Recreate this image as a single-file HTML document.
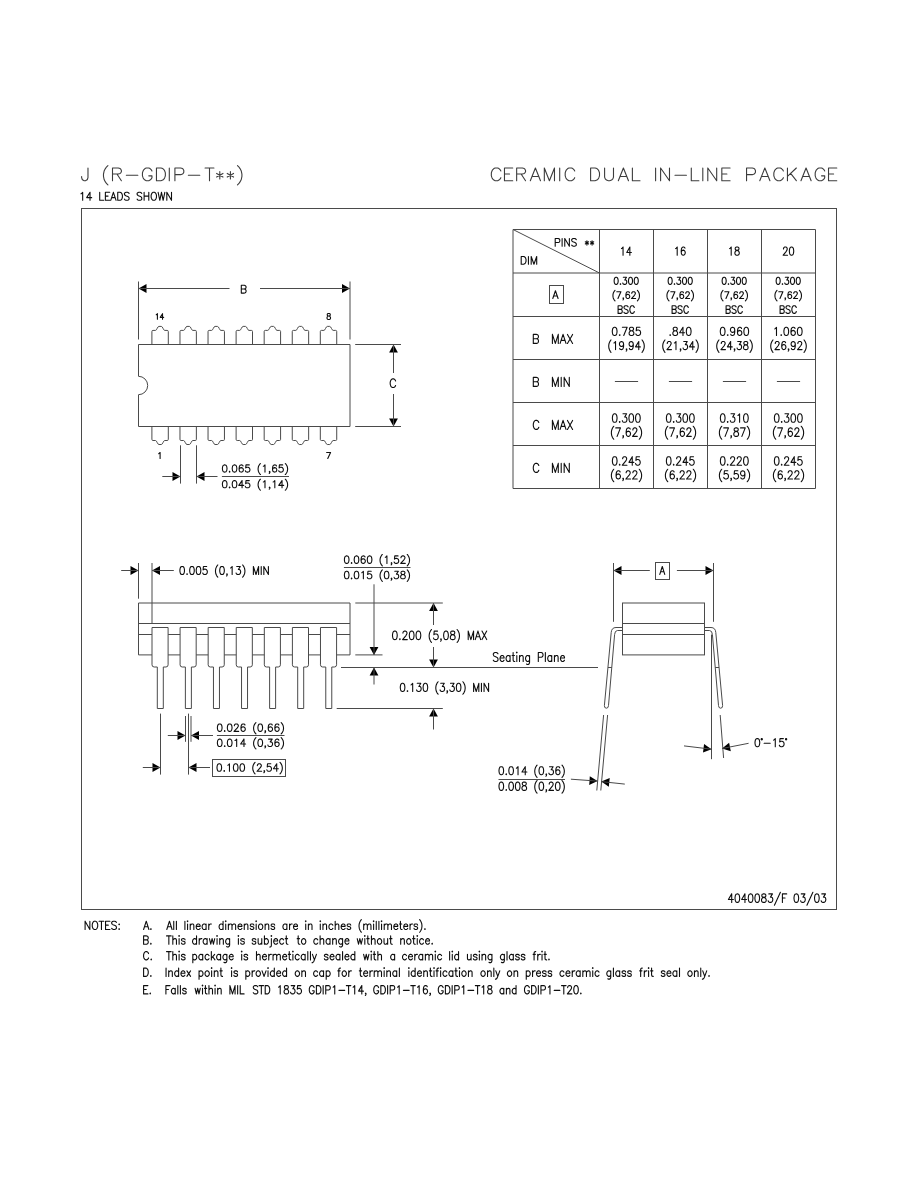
<!DOCTYPE html>
<html><head><meta charset="utf-8"><style>
html,body{margin:0;padding:0;background:#fff;}
svg{display:block;}
.tt{stroke:#3c3c3c !important;}
.tx{fill:none;stroke:#0e0e0e;stroke-width:1.1;stroke-linecap:round;stroke-linejoin:round;}
line,polyline,path,rect{stroke:#4a4a4a;stroke-width:1;}
rect{fill:none;}
.ah{fill:#000;stroke:none;}
</style></head><body>
<svg width="918" height="1188" viewBox="0 0 918 1188">
<rect x="0" y="0" width="918" height="1188" fill="#fff" stroke="none" style="stroke:none;fill:#fff"/>
<path class="tx tt" d="M87.98,168.00L87.98,177.68 87.34,179.49 86.71,180.10 85.44,180.70 84.17,180.70 82.90,180.10 82.26,179.49 81.63,177.68 81.63,176.47"/>
<path class="tx tt" d="M107.92,165.58L106.65,166.79 105.38,168.60 104.11,171.02 103.48,174.05 103.48,176.47 104.11,179.49 105.38,181.91 106.65,183.72 107.92,184.93"/>
<path class="tx tt" d="M112.50,168.00L112.50,180.70M112.50,168.00L118.22,168.00 120.12,168.60 120.76,169.21 121.39,170.42 121.39,171.63 120.76,172.84 120.12,173.44 118.22,174.05 112.50,174.05M116.95,174.05L121.39,180.70"/>
<path class="tx tt" d="M126.38,175.26L137.81,175.26"/>
<path class="tx tt" d="M151.96,171.02L151.33,169.81 150.06,168.60 148.79,168.00 146.25,168.00 144.98,168.60 143.71,169.81 143.07,171.02 142.44,172.84 142.44,175.86 143.07,177.68 143.71,178.89 144.98,180.10 146.25,180.70 148.79,180.70 150.06,180.10 151.33,178.89 151.96,177.68 151.96,175.86M148.79,175.86L151.96,175.86"/>
<path class="tx tt" d="M156.46,168.00L156.46,180.70M156.46,168.00L160.90,168.00 162.81,168.60 164.08,169.81 164.71,171.02 165.35,172.84 165.35,175.86 164.71,177.68 164.08,178.89 162.81,180.10 160.90,180.70 156.46,180.70"/>
<path class="tx tt" d="M169.30,168.00L169.30,180.70"/>
<path class="tx tt" d="M174.91,168.00L174.91,180.70M174.91,168.00L180.62,168.00 182.53,168.60 183.16,169.21 183.80,170.42 183.80,172.23 183.16,173.44 182.53,174.05 180.62,174.65 174.91,174.65"/>
<path class="tx tt" d="M188.34,175.26L199.77,175.26"/>
<path class="tx tt" d="M209.50,168.00L209.50,180.70M205.06,168.00L213.95,168.00"/>
<path class="tx tt" d="M219.80,171.63L219.80,178.89M216.62,173.44L222.97,177.07M222.97,173.44L216.62,177.07"/>
<path class="tx tt" d="M230.40,171.63L230.40,178.89M227.22,173.44L233.57,177.07M233.57,173.44L227.22,177.07"/>
<path class="tx tt" d="M237.48,165.58L238.75,166.79 240.02,168.60 241.29,171.02 241.92,174.05 241.92,176.47 241.29,179.49 240.02,181.91 238.75,183.72 237.48,184.93"/>
<path class="tx" d="M81.00,193.82L81.67,193.44 82.67,192.30 82.67,200.30M90.02,192.30L86.68,197.63 91.69,197.63M90.02,192.30L90.02,200.30M99.70,192.30L99.70,200.30M99.70,200.30L103.71,200.30M105.38,192.30L105.38,200.30M105.38,192.30L109.72,192.30M105.38,196.11L108.05,196.11M105.38,200.30L109.72,200.30M113.39,192.30L110.72,200.30M113.39,192.30L116.06,200.30M111.72,197.63L115.06,197.63M117.73,192.30L117.73,200.30M117.73,192.30L120.07,192.30 121.07,192.68 121.74,193.44 122.08,194.20 122.41,195.35 122.41,197.25 122.08,198.40 121.74,199.16 121.07,199.92 120.07,200.30 117.73,200.30M129.09,193.44L128.42,192.68 127.42,192.30 126.08,192.30 125.08,192.68 124.41,193.44 124.41,194.20 124.75,194.97 125.08,195.35 125.75,195.73 127.75,196.49 128.42,196.87 128.75,197.25 129.09,198.01 129.09,199.16 128.42,199.92 127.42,200.30 126.08,200.30 125.08,199.92 124.41,199.16M141.78,193.44L141.11,192.68 140.11,192.30 138.77,192.30 137.77,192.68 137.10,193.44 137.10,194.20 137.44,194.97 137.77,195.35 138.44,195.73 140.44,196.49 141.11,196.87 141.44,197.25 141.78,198.01 141.78,199.16 141.11,199.92 140.11,200.30 138.77,200.30 137.77,199.92 137.10,199.16M144.12,192.30L144.12,200.30M148.79,192.30L148.79,200.30M144.12,196.11L148.79,196.11M153.13,192.30L152.46,192.68 151.80,193.44 151.46,194.20 151.13,195.35 151.13,197.25 151.46,198.40 151.80,199.16 152.46,199.92 153.13,200.30 154.47,200.30 155.14,199.92 155.80,199.16 156.14,198.40 156.47,197.25 156.47,195.35 156.14,194.20 155.80,193.44 155.14,192.68 154.47,192.30 153.13,192.30M158.14,192.30L159.81,200.30M161.48,192.30L159.81,200.30M161.48,192.30L163.15,200.30M164.82,192.30L163.15,200.30M166.82,192.30L166.82,200.30M166.82,192.30L171.50,200.30M171.50,192.30L171.50,200.30"/>
<path class="tx tt" d="M500.86,171.02L500.23,169.81 498.96,168.60 497.69,168.00 495.15,168.00 493.88,168.60 492.61,169.81 491.97,171.02 491.34,172.84 491.34,175.86 491.97,177.68 492.61,178.89 493.88,180.10 495.15,180.70 497.69,180.70 498.96,180.10 500.23,178.89 500.86,177.68"/>
<path class="tx tt" d="M504.47,168.00L504.47,180.70M504.47,168.00L512.73,168.00M504.47,174.05L509.55,174.05M504.47,180.70L512.73,180.70"/>
<path class="tx tt" d="M516.65,168.00L516.65,180.70M516.65,168.00L522.37,168.00 524.27,168.60 524.91,169.21 525.54,170.42 525.54,171.63 524.91,172.84 524.27,173.44 522.37,174.05 516.65,174.05M521.10,174.05L525.54,180.70"/>
<path class="tx tt" d="M535.40,168.00L530.32,180.70M535.40,168.00L540.48,180.70M532.22,176.47L538.57,176.47"/>
<path class="tx tt" d="M544.32,168.00L544.32,180.70M544.32,168.00L549.40,180.70M554.48,168.00L549.40,180.70M554.48,168.00L554.48,180.70"/>
<path class="tx tt" d="M559.70,168.00L559.70,180.70"/>
<path class="tx tt" d="M574.71,171.02L574.08,169.81 572.81,168.60 571.54,168.00 569.00,168.00 567.73,168.60 566.46,169.81 565.82,171.02 565.19,172.84 565.19,175.86 565.82,177.68 566.46,178.89 567.73,180.10 569.00,180.70 571.54,180.70 572.81,180.10 574.08,178.89 574.71,177.68"/>
<path class="tx tt" d="M590.60,168.00L590.60,180.70M590.60,168.00L595.05,168.00 596.95,168.60 598.22,169.81 598.86,171.02 599.49,172.84 599.49,175.86 598.86,177.68 598.22,178.89 596.95,180.10 595.05,180.70 590.60,180.70"/>
<path class="tx tt" d="M604.60,168.00L604.60,177.07 605.24,178.89 606.51,180.10 608.41,180.70 609.68,180.70 611.59,180.10 612.86,178.89 613.49,177.07 613.49,168.00"/>
<path class="tx tt" d="M623.40,168.00L618.32,180.70M623.40,168.00L628.48,180.70M620.22,176.47L626.57,176.47"/>
<path class="tx tt" d="M632.39,168.00L632.39,180.70M632.39,180.70L640.01,180.70"/>
<path class="tx tt" d="M655.60,168.00L655.60,180.70"/>
<path class="tx tt" d="M660.60,168.00L660.60,180.70M660.60,168.00L669.49,180.70M669.49,168.00L669.49,180.70"/>
<path class="tx tt" d="M674.99,175.26L686.42,175.26"/>
<path class="tx tt" d="M691.29,168.00L691.29,180.70M691.29,180.70L698.91,180.70"/>
<path class="tx tt" d="M702.80,168.00L702.80,180.70"/>
<path class="tx tt" d="M707.80,168.00L707.80,180.70M707.80,168.00L716.69,180.70M716.69,168.00L716.69,180.70"/>
<path class="tx tt" d="M721.82,168.00L721.82,180.70M721.82,168.00L730.08,168.00M721.82,174.05L726.90,174.05M721.82,180.70L730.08,180.70"/>
<path class="tx tt" d="M746.55,168.00L746.55,180.70M746.55,168.00L752.27,168.00 754.17,168.60 754.81,169.21 755.44,170.42 755.44,172.23 754.81,173.44 754.17,174.05 752.27,174.65 746.55,174.65"/>
<path class="tx tt" d="M764.85,168.00L759.77,180.70M764.85,168.00L769.93,180.70M761.67,176.47L768.02,176.47"/>
<path class="tx tt" d="M783.36,171.02L782.73,169.81 781.46,168.60 780.19,168.00 777.65,168.00 776.38,168.60 775.11,169.81 774.47,171.02 773.84,172.84 773.84,175.86 774.47,177.68 775.11,178.89 776.38,180.10 777.65,180.70 780.19,180.70 781.46,180.10 782.73,178.89 783.36,177.68"/>
<path class="tx tt" d="M787.45,168.00L787.45,180.70M796.34,168.00L787.45,176.47M790.63,173.44L796.34,180.70"/>
<path class="tx tt" d="M806.05,168.00L800.97,180.70M806.05,168.00L811.13,180.70M802.87,176.47L809.22,176.47"/>
<path class="tx tt" d="M824.71,171.02L824.08,169.81 822.81,168.60 821.54,168.00 819.00,168.00 817.73,168.60 816.46,169.81 815.82,171.02 815.19,172.84 815.19,175.86 815.82,177.68 816.46,178.89 817.73,180.10 819.00,180.70 821.54,180.70 822.81,180.10 824.08,178.89 824.71,177.68 824.71,175.86M821.54,175.86L824.71,175.86"/>
<path class="tx tt" d="M828.52,168.00L828.52,180.70M828.52,168.00L836.78,168.00M828.52,174.05L833.60,174.05M828.52,180.70L836.78,180.70"/>
<rect x="81.5" y="208.5" width="755" height="701" fill="none"/>
<line x1="138.5" y1="281.5" x2="138.5" y2="339.5"/>
<line x1="350" y1="281.5" x2="350" y2="339.5"/>
<polygon class="ah" points="138.5,288.5 146.5,292.9 146.5,284.1"/>
<line x1="138.5" y1="288.5" x2="229.5" y2="288.5"/>
<polygon class="ah" points="350,288.5 342,284.1 342,292.9"/>
<line x1="350" y1="288.5" x2="260" y2="288.5"/>
<path class="tx" d="M241.30,285.30L241.30,293.10M241.30,285.30L244.36,285.30 245.38,285.67 245.72,286.04 246.06,286.79 246.06,287.53 245.72,288.27 245.38,288.64 244.36,289.01M241.30,289.01L244.36,289.01 245.38,289.39 245.72,289.76 246.06,290.50 246.06,291.61 245.72,292.36 245.38,292.73 244.36,293.10 241.30,293.10"/>
<path d="M 138.5 376.3 L 138.5 344.5 L 350.0 344.5 L 350.0 426.5 L 138.5 426.5 L 138.5 394.7 A 9.2 9.2 0 0 0 138.5 376.3" fill="none"/>
<path d="M 151.9 344.5 L 151.9 331.5 Q 151.9 330.4 153 330.4 L 155.5 330.4 C 156.9 330.4 157.4 326.4 158.9 326.4 L 161.3 326.4 C 162.8 326.4 163.3 330.4 164.7 330.4 L 167.2 330.4 Q 168.3 330.4 168.3 331.5 L 168.3 344.5" fill="none"/>
<path d="M 151.9 426.5 L 151.9 439.4 Q 151.9 440.5 153 440.5 L 155.5 440.5 C 156.9 440.5 157.4 444.5 158.9 444.5 L 161.3 444.5 C 162.8 444.5 163.3 440.5 164.7 440.5 L 167.2 440.5 Q 168.3 440.5 168.3 439.4 L 168.3 426.5" fill="none"/>
<path d="M 179.97 344.5 L 179.97 331.5 Q 179.97 330.4 181.07 330.4 L 183.57 330.4 C 184.97 330.4 185.47 326.4 186.97 326.4 L 189.37 326.4 C 190.87 326.4 191.37 330.4 192.77 330.4 L 195.27 330.4 Q 196.37 330.4 196.37 331.5 L 196.37 344.5" fill="none"/>
<path d="M 179.97 426.5 L 179.97 439.4 Q 179.97 440.5 181.07 440.5 L 183.57 440.5 C 184.97 440.5 185.47 444.5 186.97 444.5 L 189.37 444.5 C 190.87 444.5 191.37 440.5 192.77 440.5 L 195.27 440.5 Q 196.37 440.5 196.37 439.4 L 196.37 426.5" fill="none"/>
<path d="M 208.04 344.5 L 208.04 331.5 Q 208.04 330.4 209.14 330.4 L 211.64 330.4 C 213.04 330.4 213.54 326.4 215.04 326.4 L 217.44 326.4 C 218.94 326.4 219.44 330.4 220.84 330.4 L 223.34 330.4 Q 224.44 330.4 224.44 331.5 L 224.44 344.5" fill="none"/>
<path d="M 208.04 426.5 L 208.04 439.4 Q 208.04 440.5 209.14 440.5 L 211.64 440.5 C 213.04 440.5 213.54 444.5 215.04 444.5 L 217.44 444.5 C 218.94 444.5 219.44 440.5 220.84 440.5 L 223.34 440.5 Q 224.44 440.5 224.44 439.4 L 224.44 426.5" fill="none"/>
<path d="M 236.11 344.5 L 236.11 331.5 Q 236.11 330.4 237.21 330.4 L 239.71 330.4 C 241.11 330.4 241.61 326.4 243.11 326.4 L 245.51 326.4 C 247.01 326.4 247.51 330.4 248.91 330.4 L 251.41 330.4 Q 252.51 330.4 252.51 331.5 L 252.51 344.5" fill="none"/>
<path d="M 236.11 426.5 L 236.11 439.4 Q 236.11 440.5 237.21 440.5 L 239.71 440.5 C 241.11 440.5 241.61 444.5 243.11 444.5 L 245.51 444.5 C 247.01 444.5 247.51 440.5 248.91 440.5 L 251.41 440.5 Q 252.51 440.5 252.51 439.4 L 252.51 426.5" fill="none"/>
<path d="M 264.18 344.5 L 264.18 331.5 Q 264.18 330.4 265.28 330.4 L 267.78 330.4 C 269.18 330.4 269.68 326.4 271.18 326.4 L 273.58 326.4 C 275.08 326.4 275.58 330.4 276.98 330.4 L 279.48 330.4 Q 280.58 330.4 280.58 331.5 L 280.58 344.5" fill="none"/>
<path d="M 264.18 426.5 L 264.18 439.4 Q 264.18 440.5 265.28 440.5 L 267.78 440.5 C 269.18 440.5 269.68 444.5 271.18 444.5 L 273.58 444.5 C 275.08 444.5 275.58 440.5 276.98 440.5 L 279.48 440.5 Q 280.58 440.5 280.58 439.4 L 280.58 426.5" fill="none"/>
<path d="M 292.25 344.5 L 292.25 331.5 Q 292.25 330.4 293.35 330.4 L 295.85 330.4 C 297.25 330.4 297.75 326.4 299.25 326.4 L 301.65 326.4 C 303.15 326.4 303.65 330.4 305.05 330.4 L 307.55 330.4 Q 308.65 330.4 308.65 331.5 L 308.65 344.5" fill="none"/>
<path d="M 292.25 426.5 L 292.25 439.4 Q 292.25 440.5 293.35 440.5 L 295.85 440.5 C 297.25 440.5 297.75 444.5 299.25 444.5 L 301.65 444.5 C 303.15 444.5 303.65 440.5 305.05 440.5 L 307.55 440.5 Q 308.65 440.5 308.65 439.4 L 308.65 426.5" fill="none"/>
<path d="M 320.32 344.5 L 320.32 331.5 Q 320.32 330.4 321.42 330.4 L 323.92 330.4 C 325.32 330.4 325.82 326.4 327.32 326.4 L 329.72 326.4 C 331.22 326.4 331.72 330.4 333.12 330.4 L 335.62 330.4 Q 336.72 330.4 336.72 331.5 L 336.72 344.5" fill="none"/>
<path d="M 320.32 426.5 L 320.32 439.4 Q 320.32 440.5 321.42 440.5 L 323.92 440.5 C 325.32 440.5 325.82 444.5 327.32 444.5 L 329.72 444.5 C 331.22 444.5 331.72 440.5 333.12 440.5 L 335.62 440.5 Q 336.72 440.5 336.72 439.4 L 336.72 426.5" fill="none"/>
<path class="tx" d="M156.25,314.75L156.72,314.49 157.41,313.70 157.41,319.20M162.54,313.70L160.21,317.37 163.70,317.37M162.54,313.70L162.54,319.20"/>
<path class="tx" d="M328.25,313.50L327.50,313.79 327.25,314.36 327.25,314.93 327.50,315.50 328.00,315.79 329.00,316.07 329.75,316.36 330.25,316.93 330.50,317.50 330.50,318.36 330.25,318.93 330.00,319.21 329.25,319.50 328.25,319.50 327.50,319.21 327.25,318.93 327.00,318.36 327.00,317.50 327.25,316.93 327.75,316.36 328.50,316.07 329.50,315.79 330.00,315.50 330.25,314.93 330.25,314.36 330.00,313.79 329.25,313.50 328.25,313.50"/>
<path class="tx" d="M158.70,453.64L159.26,453.36 160.10,452.50 160.10,458.50"/>
<path class="tx" d="M330.57,452.50L327.77,458.50M326.65,452.50L330.57,452.50"/>
<line x1="355.2" y1="344.5" x2="401" y2="344.5"/>
<line x1="355.2" y1="426.5" x2="401" y2="426.5"/>
<polygon class="ah" points="393.5,344.5 389.1,352.5 397.9,352.5"/>
<line x1="393.5" y1="344.5" x2="393.5" y2="373"/>
<polygon class="ah" points="393.5,426.5 397.9,418.5 389.1,418.5"/>
<line x1="393.5" y1="426.5" x2="393.5" y2="394"/>
<path class="tx" d="M395.60,380.95L395.24,380.13 394.52,379.31 393.80,378.90 392.36,378.90 391.64,379.31 390.92,380.13 390.56,380.95 390.20,382.18 390.20,384.22 390.56,385.45 390.92,386.27 391.64,387.09 392.36,387.50 393.80,387.50 394.52,387.09 395.24,386.27 395.60,385.45"/>
<line x1="180.5" y1="445.3" x2="180.5" y2="483.6"/>
<line x1="196.5" y1="445.3" x2="196.5" y2="483.6"/>
<polygon class="ah" points="180.5,476.5 172.5,472.1 172.5,480.9"/>
<line x1="180.5" y1="476.5" x2="162.3" y2="476.5"/>
<polygon class="ah" points="196.5,476.5 204.5,480.9 204.5,472.1"/>
<line x1="196.5" y1="476.5" x2="217.5" y2="476.5"/>
<path class="tx" d="M224.37,464.90L223.38,465.24 222.73,466.27 222.40,467.99 222.40,469.01 222.73,470.73 223.38,471.76 224.37,472.10 225.02,472.10 226.00,471.76 226.66,470.73 226.99,469.01 226.99,467.99 226.66,466.27 226.00,465.24 225.02,464.90 224.37,464.90M229.61,471.41L229.28,471.76 229.61,472.10 229.94,471.76 229.61,471.41M234.19,464.90L233.21,465.24 232.56,466.27 232.23,467.99 232.23,469.01 232.56,470.73 233.21,471.76 234.19,472.10 234.85,472.10 235.83,471.76 236.49,470.73 236.82,469.01 236.82,467.99 236.49,466.27 235.83,465.24 234.85,464.90 234.19,464.90M243.04,465.93L242.71,465.24 241.73,464.90 241.08,464.90 240.09,465.24 239.44,466.27 239.11,467.99 239.11,469.70 239.44,471.07 240.09,471.76 241.08,472.10 241.40,472.10 242.39,471.76 243.04,471.07 243.37,470.04 243.37,469.70 243.04,468.67 242.39,467.99 241.40,467.64 241.08,467.64 240.09,467.99 239.44,468.67 239.11,469.70M249.27,464.90L245.99,464.90 245.66,467.99 245.99,467.64 246.97,467.30 247.96,467.30 248.94,467.64 249.59,468.33 249.92,469.36 249.92,470.04 249.59,471.07 248.94,471.76 247.96,472.10 246.97,472.10 245.99,471.76 245.66,471.41 245.33,470.73M260.41,463.53L259.75,464.21 259.10,465.24 258.44,466.61 258.11,468.33 258.11,469.70 258.44,471.41 259.10,472.79 259.75,473.81 260.41,474.50M263.35,466.27L264.01,465.93 264.99,464.90 264.99,472.10M269.91,471.76L269.58,472.10 269.25,471.76 269.58,471.41 269.91,471.76 269.91,472.44 269.58,473.13 269.25,473.47M276.46,465.93L276.13,465.24 275.15,464.90 274.49,464.90 273.51,465.24 272.86,466.27 272.53,467.99 272.53,469.70 272.86,471.07 273.51,471.76 274.49,472.10 274.82,472.10 275.81,471.76 276.46,471.07 276.79,470.04 276.79,469.70 276.46,468.67 275.81,467.99 274.82,467.64 274.49,467.64 273.51,467.99 272.86,468.67 272.53,469.70M282.69,464.90L279.41,464.90 279.08,467.99 279.41,467.64 280.39,467.30 281.37,467.30 282.36,467.64 283.01,468.33 283.34,469.36 283.34,470.04 283.01,471.07 282.36,471.76 281.37,472.10 280.39,472.10 279.41,471.76 279.08,471.41 278.75,470.73M285.31,463.53L285.96,464.21 286.62,465.24 287.27,466.61 287.60,468.33 287.60,469.70 287.27,471.41 286.62,472.79 285.96,473.81 285.31,474.50"/>
<line x1="221.9" y1="476.5" x2="289" y2="476.5"/>
<path class="tx" d="M224.37,480.60L223.38,480.94 222.73,481.97 222.40,483.69 222.40,484.71 222.73,486.43 223.38,487.46 224.37,487.80 225.02,487.80 226.00,487.46 226.66,486.43 226.99,484.71 226.99,483.69 226.66,481.97 226.00,480.94 225.02,480.60 224.37,480.60M229.61,487.11L229.28,487.46 229.61,487.80 229.94,487.46 229.61,487.11M234.19,480.60L233.21,480.94 232.56,481.97 232.23,483.69 232.23,484.71 232.56,486.43 233.21,487.46 234.19,487.80 234.85,487.80 235.83,487.46 236.49,486.43 236.82,484.71 236.82,483.69 236.49,481.97 235.83,480.94 234.85,480.60 234.19,480.60M242.06,480.60L238.78,485.40 243.70,485.40M242.06,480.60L242.06,487.80M249.27,480.60L245.99,480.60 245.66,483.69 245.99,483.34 246.97,483.00 247.96,483.00 248.94,483.34 249.59,484.03 249.92,485.06 249.92,485.74 249.59,486.77 248.94,487.46 247.96,487.80 246.97,487.80 245.99,487.46 245.66,487.11 245.33,486.43M260.41,479.23L259.75,479.91 259.10,480.94 258.44,482.31 258.11,484.03 258.11,485.40 258.44,487.11 259.10,488.49 259.75,489.51 260.41,490.20M263.35,481.97L264.01,481.63 264.99,480.60 264.99,487.80M269.91,487.46L269.58,487.80 269.25,487.46 269.58,487.11 269.91,487.46 269.91,488.14 269.58,488.83 269.25,489.17M273.18,481.97L273.84,481.63 274.82,480.60 274.82,487.80M282.03,480.60L278.75,485.40 283.67,485.40M282.03,480.60L282.03,487.80M285.31,479.23L285.96,479.91 286.62,480.94 287.27,482.31 287.60,484.03 287.60,485.40 287.27,487.11 286.62,488.49 285.96,489.51 285.31,490.20"/>
<line x1="513" y1="229.5" x2="513" y2="488.5"/>
<line x1="599.5" y1="229.5" x2="599.5" y2="488.5"/>
<line x1="653.5" y1="229.5" x2="653.5" y2="488.5"/>
<line x1="707.5" y1="229.5" x2="707.5" y2="488.5"/>
<line x1="761.5" y1="229.5" x2="761.5" y2="488.5"/>
<line x1="815.5" y1="229.5" x2="815.5" y2="488.5"/>
<line x1="513" y1="229.5" x2="815.5" y2="229.5"/>
<line x1="513" y1="273" x2="815.5" y2="273"/>
<line x1="513" y1="316.5" x2="815.5" y2="316.5"/>
<line x1="513" y1="359.5" x2="815.5" y2="359.5"/>
<line x1="513" y1="402.5" x2="815.5" y2="402.5"/>
<line x1="513" y1="445.5" x2="815.5" y2="445.5"/>
<line x1="513" y1="488.5" x2="815.5" y2="488.5"/>
<line x1="513" y1="229.5" x2="599.5" y2="273"/>
<path class="tx" d="M555.20,238.50L555.20,246.20M555.20,238.50L558.17,238.50 559.16,238.87 559.49,239.23 559.82,239.97 559.82,241.07 559.49,241.80 559.16,242.17 558.17,242.53 555.20,242.53M562.12,238.50L562.12,246.20M564.76,238.50L564.76,246.20M564.76,238.50L569.38,246.20M569.38,238.50L569.38,246.20M576.30,239.60L575.64,238.87 574.65,238.50 573.33,238.50 572.34,238.87 571.68,239.60 571.68,240.33 572.01,241.07 572.34,241.43 573.00,241.80 574.98,242.53 575.64,242.90 575.97,243.27 576.30,244.00 576.30,245.10 575.64,245.83 574.65,246.20 573.33,246.20 572.34,245.83 571.68,245.10"/>
<path class="tx" d="M586.92,240.70L586.92,245.10M585.30,241.80L588.53,244.00M588.53,241.80L585.30,244.00M592.08,240.70L592.08,245.10M590.47,241.80L593.70,244.00M593.70,241.80L590.47,244.00"/>
<path class="tx" d="M521.20,256.50L521.20,264.20M521.20,256.50L523.61,256.50 524.64,256.87 525.33,257.60 525.68,258.33 526.02,259.43 526.02,261.27 525.68,262.37 525.33,263.10 524.64,263.83 523.61,264.20 521.20,264.20M528.43,256.50L528.43,264.20M531.19,256.50L531.19,264.20M531.19,256.50L533.94,264.20M536.70,256.50L533.94,264.20M536.70,256.50L536.70,264.20"/>
<path class="tx" d="M621.50,248.56L622.12,248.17 623.05,247.00 623.05,255.20M629.85,247.00L626.76,252.47 631.40,252.47M629.85,247.00L629.85,255.20"/>
<path class="tx" d="M675.65,248.56L676.27,248.17 677.20,247.00 677.20,255.20M684.94,248.17L684.63,247.39 683.70,247.00 683.08,247.00 682.15,247.39 681.53,248.56 681.22,250.51 681.22,252.47 681.53,254.03 682.15,254.81 683.08,255.20 683.39,255.20 684.32,254.81 684.94,254.03 685.25,252.86 685.25,252.47 684.94,251.30 684.32,250.51 683.39,250.12 683.08,250.12 682.15,250.51 681.53,251.30 681.22,252.47"/>
<path class="tx" d="M729.65,248.56L730.27,248.17 731.20,247.00 731.20,255.20M736.46,247.00L735.53,247.39 735.22,248.17 735.22,248.95 735.53,249.73 736.15,250.12 737.39,250.51 738.32,250.90 738.94,251.69 739.25,252.47 739.25,253.64 738.94,254.42 738.63,254.81 737.70,255.20 736.46,255.20 735.53,254.81 735.22,254.42 734.91,253.64 734.91,252.47 735.22,251.69 735.84,250.90 736.77,250.51 738.01,250.12 738.63,249.73 738.94,248.95 738.94,248.17 738.63,247.39 737.70,247.00 736.46,247.00"/>
<path class="tx" d="M783.50,248.95L783.50,248.56 783.81,247.78 784.12,247.39 784.74,247.00 785.98,247.00 786.59,247.39 786.90,247.78 787.21,248.56 787.21,249.34 786.90,250.12 786.28,251.30 783.19,255.20 787.52,255.20M791.23,247.00L790.31,247.39 789.69,248.56 789.38,250.51 789.38,251.69 789.69,253.64 790.31,254.81 791.23,255.20 791.85,255.20 792.78,254.81 793.40,253.64 793.71,251.69 793.71,250.51 793.40,248.56 792.78,247.39 791.85,247.00 791.23,247.00"/>
<rect x="549.5" y="285.5" width="14" height="18" fill="none"/>
<path class="tx" d="M555.44,290.80L552.80,298.50M555.44,290.80L558.08,298.50M553.79,295.93L557.09,295.93"/>
<path class="tx" d="M615.87,277.30L615.01,277.64 614.44,278.65 614.15,280.34 614.15,281.36 614.44,283.05 615.01,284.06 615.87,284.40 616.45,284.40 617.31,284.06 617.88,283.05 618.17,281.36 618.17,280.34 617.88,278.65 617.31,277.64 616.45,277.30 615.87,277.30M620.46,283.72L620.18,284.06 620.46,284.40 620.75,284.06 620.46,283.72M623.33,277.30L626.49,277.30 624.77,280.00 625.63,280.00 626.20,280.34 626.49,280.68 626.77,281.70 626.77,282.37 626.49,283.39 625.91,284.06 625.05,284.40 624.19,284.40 623.33,284.06 623.04,283.72 622.76,283.05M630.22,277.30L629.36,277.64 628.78,278.65 628.50,280.34 628.50,281.36 628.78,283.05 629.36,284.06 630.22,284.40 630.79,284.40 631.65,284.06 632.23,283.05 632.51,281.36 632.51,280.34 632.23,278.65 631.65,277.64 630.79,277.30 630.22,277.30M635.95,277.30L635.09,277.64 634.52,278.65 634.23,280.34 634.23,281.36 634.52,283.05 635.09,284.06 635.95,284.40 636.53,284.40 637.39,284.06 637.96,283.05 638.25,281.36 638.25,280.34 637.96,278.65 637.39,277.64 636.53,277.30 635.95,277.30"/>
<path class="tx" d="M615.01,290.40L614.42,291.05 613.83,292.03 613.24,293.33 612.95,294.96 612.95,296.27 613.24,297.90 613.83,299.20 614.42,300.18 615.01,300.83M620.90,291.70L617.96,298.55M616.78,291.70L620.90,291.70M623.55,298.22L623.26,298.55 622.96,298.22 623.26,297.90 623.55,298.22 623.55,298.88 623.26,299.53 622.96,299.85M629.44,292.68L629.14,292.03 628.26,291.70 627.67,291.70 626.79,292.03 626.20,293.00 625.91,294.64 625.91,296.27 626.20,297.57 626.79,298.22 627.67,298.55 627.97,298.55 628.85,298.22 629.44,297.57 629.73,296.59 629.73,296.27 629.44,295.29 628.85,294.64 627.97,294.31 627.67,294.31 626.79,294.64 626.20,295.29 625.91,296.27M631.79,293.33L631.79,293.00 632.09,292.35 632.38,292.03 632.97,291.70 634.15,291.70 634.74,292.03 635.03,292.35 635.33,293.00 635.33,293.66 635.03,294.31 634.44,295.29 631.50,298.55 635.62,298.55M637.39,290.40L637.98,291.05 638.57,292.03 639.16,293.33 639.45,294.96 639.45,296.27 639.16,297.90 638.57,299.20 637.98,300.18 637.39,300.83"/>
<path class="tx" d="M618.10,305.70L618.10,313.40M618.10,305.70L620.75,305.70 621.63,306.07 621.93,306.43 622.22,307.17 622.22,307.90 621.93,308.63 621.63,309.00 620.75,309.37M618.10,309.37L620.75,309.37 621.63,309.73 621.93,310.10 622.22,310.83 622.22,311.93 621.93,312.67 621.63,313.03 620.75,313.40 618.10,313.40M628.11,306.80L627.53,306.07 626.64,305.70 625.46,305.70 624.58,306.07 623.99,306.80 623.99,307.53 624.29,308.27 624.58,308.63 625.17,309.00 626.94,309.73 627.53,310.10 627.82,310.47 628.11,311.20 628.11,312.30 627.53,313.03 626.64,313.40 625.46,313.40 624.58,313.03 623.99,312.30M634.30,307.53L634.01,306.80 633.42,306.07 632.83,305.70 631.65,305.70 631.06,306.07 630.47,306.80 630.18,307.53 629.88,308.63 629.88,310.47 630.18,311.57 630.47,312.30 631.06,313.03 631.65,313.40 632.83,313.40 633.42,313.03 634.01,312.30 634.30,311.57"/>
<path class="tx" d="M669.87,277.30L669.01,277.64 668.44,278.65 668.15,280.34 668.15,281.36 668.44,283.05 669.01,284.06 669.87,284.40 670.45,284.40 671.31,284.06 671.88,283.05 672.17,281.36 672.17,280.34 671.88,278.65 671.31,277.64 670.45,277.30 669.87,277.30M674.46,283.72L674.18,284.06 674.46,284.40 674.75,284.06 674.46,283.72M677.33,277.30L680.49,277.30 678.77,280.00 679.63,280.00 680.20,280.34 680.49,280.68 680.77,281.70 680.77,282.37 680.49,283.39 679.91,284.06 679.05,284.40 678.19,284.40 677.33,284.06 677.04,283.72 676.76,283.05M684.22,277.30L683.36,277.64 682.78,278.65 682.50,280.34 682.50,281.36 682.78,283.05 683.36,284.06 684.22,284.40 684.79,284.40 685.65,284.06 686.23,283.05 686.51,281.36 686.51,280.34 686.23,278.65 685.65,277.64 684.79,277.30 684.22,277.30M689.95,277.30L689.09,277.64 688.52,278.65 688.23,280.34 688.23,281.36 688.52,283.05 689.09,284.06 689.95,284.40 690.53,284.40 691.39,284.06 691.96,283.05 692.25,281.36 692.25,280.34 691.96,278.65 691.39,277.64 690.53,277.30 689.95,277.30"/>
<path class="tx" d="M669.01,290.40L668.42,291.05 667.83,292.03 667.24,293.33 666.95,294.96 666.95,296.27 667.24,297.90 667.83,299.20 668.42,300.18 669.01,300.83M674.90,291.70L671.96,298.55M670.78,291.70L674.90,291.70M677.55,298.22L677.26,298.55 676.96,298.22 677.26,297.90 677.55,298.22 677.55,298.88 677.26,299.53 676.96,299.85M683.44,292.68L683.14,292.03 682.26,291.70 681.67,291.70 680.79,292.03 680.20,293.00 679.91,294.64 679.91,296.27 680.20,297.57 680.79,298.22 681.67,298.55 681.97,298.55 682.85,298.22 683.44,297.57 683.73,296.59 683.73,296.27 683.44,295.29 682.85,294.64 681.97,294.31 681.67,294.31 680.79,294.64 680.20,295.29 679.91,296.27M685.79,293.33L685.79,293.00 686.09,292.35 686.38,292.03 686.97,291.70 688.15,291.70 688.74,292.03 689.03,292.35 689.33,293.00 689.33,293.66 689.03,294.31 688.44,295.29 685.50,298.55 689.62,298.55M691.39,290.40L691.98,291.05 692.57,292.03 693.16,293.33 693.45,294.96 693.45,296.27 693.16,297.90 692.57,299.20 691.98,300.18 691.39,300.83"/>
<path class="tx" d="M672.10,305.70L672.10,313.40M672.10,305.70L674.75,305.70 675.63,306.07 675.93,306.43 676.22,307.17 676.22,307.90 675.93,308.63 675.63,309.00 674.75,309.37M672.10,309.37L674.75,309.37 675.63,309.73 675.93,310.10 676.22,310.83 676.22,311.93 675.93,312.67 675.63,313.03 674.75,313.40 672.10,313.40M682.11,306.80L681.53,306.07 680.64,305.70 679.46,305.70 678.58,306.07 677.99,306.80 677.99,307.53 678.29,308.27 678.58,308.63 679.17,309.00 680.94,309.73 681.53,310.10 681.82,310.47 682.11,311.20 682.11,312.30 681.53,313.03 680.64,313.40 679.46,313.40 678.58,313.03 677.99,312.30M688.30,307.53L688.01,306.80 687.42,306.07 686.83,305.70 685.65,305.70 685.06,306.07 684.47,306.80 684.18,307.53 683.88,308.63 683.88,310.47 684.18,311.57 684.47,312.30 685.06,313.03 685.65,313.40 686.83,313.40 687.42,313.03 688.01,312.30 688.30,311.57"/>
<path class="tx" d="M723.87,277.30L723.01,277.64 722.44,278.65 722.15,280.34 722.15,281.36 722.44,283.05 723.01,284.06 723.87,284.40 724.45,284.40 725.31,284.06 725.88,283.05 726.17,281.36 726.17,280.34 725.88,278.65 725.31,277.64 724.45,277.30 723.87,277.30M728.46,283.72L728.18,284.06 728.46,284.40 728.75,284.06 728.46,283.72M731.33,277.30L734.49,277.30 732.77,280.00 733.63,280.00 734.20,280.34 734.49,280.68 734.77,281.70 734.77,282.37 734.49,283.39 733.91,284.06 733.05,284.40 732.19,284.40 731.33,284.06 731.04,283.72 730.76,283.05M738.22,277.30L737.36,277.64 736.78,278.65 736.50,280.34 736.50,281.36 736.78,283.05 737.36,284.06 738.22,284.40 738.79,284.40 739.65,284.06 740.23,283.05 740.51,281.36 740.51,280.34 740.23,278.65 739.65,277.64 738.79,277.30 738.22,277.30M743.95,277.30L743.09,277.64 742.52,278.65 742.23,280.34 742.23,281.36 742.52,283.05 743.09,284.06 743.95,284.40 744.53,284.40 745.39,284.06 745.96,283.05 746.25,281.36 746.25,280.34 745.96,278.65 745.39,277.64 744.53,277.30 743.95,277.30"/>
<path class="tx" d="M723.01,290.40L722.42,291.05 721.83,292.03 721.24,293.33 720.95,294.96 720.95,296.27 721.24,297.90 721.83,299.20 722.42,300.18 723.01,300.83M728.90,291.70L725.96,298.55M724.78,291.70L728.90,291.70M731.55,298.22L731.26,298.55 730.96,298.22 731.26,297.90 731.55,298.22 731.55,298.88 731.26,299.53 730.96,299.85M737.44,292.68L737.14,292.03 736.26,291.70 735.67,291.70 734.79,292.03 734.20,293.00 733.91,294.64 733.91,296.27 734.20,297.57 734.79,298.22 735.67,298.55 735.97,298.55 736.85,298.22 737.44,297.57 737.73,296.59 737.73,296.27 737.44,295.29 736.85,294.64 735.97,294.31 735.67,294.31 734.79,294.64 734.20,295.29 733.91,296.27M739.79,293.33L739.79,293.00 740.09,292.35 740.38,292.03 740.97,291.70 742.15,291.70 742.74,292.03 743.03,292.35 743.33,293.00 743.33,293.66 743.03,294.31 742.44,295.29 739.50,298.55 743.62,298.55M745.39,290.40L745.98,291.05 746.57,292.03 747.16,293.33 747.45,294.96 747.45,296.27 747.16,297.90 746.57,299.20 745.98,300.18 745.39,300.83"/>
<path class="tx" d="M726.10,305.70L726.10,313.40M726.10,305.70L728.75,305.70 729.63,306.07 729.93,306.43 730.22,307.17 730.22,307.90 729.93,308.63 729.63,309.00 728.75,309.37M726.10,309.37L728.75,309.37 729.63,309.73 729.93,310.10 730.22,310.83 730.22,311.93 729.93,312.67 729.63,313.03 728.75,313.40 726.10,313.40M736.11,306.80L735.53,306.07 734.64,305.70 733.46,305.70 732.58,306.07 731.99,306.80 731.99,307.53 732.29,308.27 732.58,308.63 733.17,309.00 734.94,309.73 735.53,310.10 735.82,310.47 736.11,311.20 736.11,312.30 735.53,313.03 734.64,313.40 733.46,313.40 732.58,313.03 731.99,312.30M742.30,307.53L742.01,306.80 741.42,306.07 740.83,305.70 739.65,305.70 739.06,306.07 738.47,306.80 738.18,307.53 737.88,308.63 737.88,310.47 738.18,311.57 738.47,312.30 739.06,313.03 739.65,313.40 740.83,313.40 741.42,313.03 742.01,312.30 742.30,311.57"/>
<path class="tx" d="M777.87,277.30L777.01,277.64 776.44,278.65 776.15,280.34 776.15,281.36 776.44,283.05 777.01,284.06 777.87,284.40 778.45,284.40 779.31,284.06 779.88,283.05 780.17,281.36 780.17,280.34 779.88,278.65 779.31,277.64 778.45,277.30 777.87,277.30M782.46,283.72L782.18,284.06 782.46,284.40 782.75,284.06 782.46,283.72M785.33,277.30L788.49,277.30 786.77,280.00 787.63,280.00 788.20,280.34 788.49,280.68 788.77,281.70 788.77,282.37 788.49,283.39 787.91,284.06 787.05,284.40 786.19,284.40 785.33,284.06 785.04,283.72 784.76,283.05M792.22,277.30L791.36,277.64 790.78,278.65 790.50,280.34 790.50,281.36 790.78,283.05 791.36,284.06 792.22,284.40 792.79,284.40 793.65,284.06 794.23,283.05 794.51,281.36 794.51,280.34 794.23,278.65 793.65,277.64 792.79,277.30 792.22,277.30M797.95,277.30L797.09,277.64 796.52,278.65 796.23,280.34 796.23,281.36 796.52,283.05 797.09,284.06 797.95,284.40 798.53,284.40 799.39,284.06 799.96,283.05 800.25,281.36 800.25,280.34 799.96,278.65 799.39,277.64 798.53,277.30 797.95,277.30"/>
<path class="tx" d="M777.01,290.40L776.42,291.05 775.83,292.03 775.24,293.33 774.95,294.96 774.95,296.27 775.24,297.90 775.83,299.20 776.42,300.18 777.01,300.83M782.90,291.70L779.96,298.55M778.78,291.70L782.90,291.70M785.55,298.22L785.26,298.55 784.96,298.22 785.26,297.90 785.55,298.22 785.55,298.88 785.26,299.53 784.96,299.85M791.44,292.68L791.14,292.03 790.26,291.70 789.67,291.70 788.79,292.03 788.20,293.00 787.91,294.64 787.91,296.27 788.20,297.57 788.79,298.22 789.67,298.55 789.97,298.55 790.85,298.22 791.44,297.57 791.73,296.59 791.73,296.27 791.44,295.29 790.85,294.64 789.97,294.31 789.67,294.31 788.79,294.64 788.20,295.29 787.91,296.27M793.79,293.33L793.79,293.00 794.09,292.35 794.38,292.03 794.97,291.70 796.15,291.70 796.74,292.03 797.03,292.35 797.33,293.00 797.33,293.66 797.03,294.31 796.44,295.29 793.50,298.55 797.62,298.55M799.39,290.40L799.98,291.05 800.57,292.03 801.16,293.33 801.45,294.96 801.45,296.27 801.16,297.90 800.57,299.20 799.98,300.18 799.39,300.83"/>
<path class="tx" d="M780.10,305.70L780.10,313.40M780.10,305.70L782.75,305.70 783.63,306.07 783.93,306.43 784.22,307.17 784.22,307.90 783.93,308.63 783.63,309.00 782.75,309.37M780.10,309.37L782.75,309.37 783.63,309.73 783.93,310.10 784.22,310.83 784.22,311.93 783.93,312.67 783.63,313.03 782.75,313.40 780.10,313.40M790.11,306.80L789.53,306.07 788.64,305.70 787.46,305.70 786.58,306.07 785.99,306.80 785.99,307.53 786.29,308.27 786.58,308.63 787.17,309.00 788.94,309.73 789.53,310.10 789.82,310.47 790.11,311.20 790.11,312.30 789.53,313.03 788.64,313.40 787.46,313.40 786.58,313.03 785.99,312.30M796.30,307.53L796.01,306.80 795.42,306.07 794.83,305.70 793.65,305.70 793.06,306.07 792.47,306.80 792.18,307.53 791.88,308.63 791.88,310.47 792.18,311.57 792.47,312.30 793.06,313.03 793.65,313.40 794.83,313.40 795.42,313.03 796.01,312.30 796.30,311.57"/>
<path class="tx" d="M533.30,334.40L533.30,343.40M533.30,334.40L536.61,334.40 537.71,334.83 538.07,335.26 538.44,336.11 538.44,336.97 538.07,337.83 537.71,338.26 536.61,338.69M533.30,338.69L536.61,338.69 537.71,339.11 538.07,339.54 538.44,340.40 538.44,341.69 538.07,342.54 537.71,342.97 536.61,343.40 533.30,343.40"/>
<path class="tx" d="M552.40,334.40L552.40,343.40M552.40,334.40L555.34,343.40M558.28,334.40L555.34,343.40M558.28,334.40L558.28,343.40M563.05,334.40L560.11,343.40M563.05,334.40L565.99,343.40M561.21,340.40L564.89,340.40M567.46,334.40L572.60,343.40M567.46,343.40L572.60,334.40"/>
<path class="tx" d="M533.30,377.40L533.30,386.40M533.30,377.40L536.61,377.40 537.71,377.83 538.07,378.26 538.44,379.11 538.44,379.97 538.07,380.83 537.71,381.26 536.61,381.69M533.30,381.69L536.61,381.69 537.71,382.11 538.07,382.54 538.44,383.40 538.44,384.69 538.07,385.54 537.71,385.97 536.61,386.40 533.30,386.40"/>
<path class="tx" d="M552.40,377.40L552.40,386.40M552.40,377.40L555.34,386.40M558.28,377.40L555.34,386.40M558.28,377.40L558.28,386.40M561.21,377.40L561.21,386.40M564.15,377.40L564.15,386.40M564.15,377.40L569.29,386.40M569.29,377.40L569.29,386.40"/>
<path class="tx" d="M538.81,422.54L538.44,421.69 537.71,420.83 536.97,420.40 535.50,420.40 534.77,420.83 534.03,421.69 533.67,422.54 533.30,423.83 533.30,425.97 533.67,427.26 534.03,428.11 534.77,428.97 535.50,429.40 536.97,429.40 537.71,428.97 538.44,428.11 538.81,427.26"/>
<path class="tx" d="M552.40,420.40L552.40,429.40M552.40,420.40L555.34,429.40M558.28,420.40L555.34,429.40M558.28,420.40L558.28,429.40M563.05,420.40L560.11,429.40M563.05,420.40L565.99,429.40M561.21,426.40L564.89,426.40M567.46,420.40L572.60,429.40M567.46,429.40L572.60,420.40"/>
<path class="tx" d="M538.81,465.54L538.44,464.69 537.71,463.83 536.97,463.40 535.50,463.40 534.77,463.83 534.03,464.69 533.67,465.54 533.30,466.83 533.30,468.97 533.67,470.26 534.03,471.11 534.77,471.97 535.50,472.40 536.97,472.40 537.71,471.97 538.44,471.11 538.81,470.26"/>
<path class="tx" d="M552.40,463.40L552.40,472.40M552.40,463.40L555.34,472.40M558.28,463.40L555.34,472.40M558.28,463.40L558.28,472.40M561.21,463.40L561.21,472.40M564.15,463.40L564.15,472.40M564.15,463.40L569.29,472.40M569.29,463.40L569.29,472.40"/>
<path class="tx" d="M614.32,327.30L613.31,327.69 612.64,328.86 612.30,330.81 612.30,331.99 612.64,333.94 613.31,335.11 614.32,335.50 615.00,335.50 616.01,335.11 616.68,333.94 617.02,331.99 617.02,330.81 616.68,328.86 616.01,327.69 615.00,327.30 614.32,327.30M619.71,334.72L619.38,335.11 619.71,335.50 620.05,335.11 619.71,334.72M627.12,327.30L623.75,335.50M622.41,327.30L627.12,327.30M630.83,327.30L629.82,327.69 629.48,328.47 629.48,329.25 629.82,330.03 630.49,330.42 631.84,330.81 632.85,331.20 633.53,331.99 633.86,332.77 633.86,333.94 633.53,334.72 633.19,335.11 632.18,335.50 630.83,335.50 629.82,335.11 629.48,334.72 629.15,333.94 629.15,332.77 629.48,331.99 630.16,331.20 631.17,330.81 632.51,330.42 633.19,330.03 633.53,329.25 633.53,328.47 633.19,327.69 632.18,327.30 630.83,327.30M639.93,327.30L636.56,327.30 636.22,330.81 636.56,330.42 637.57,330.03 638.58,330.03 639.59,330.42 640.26,331.20 640.60,332.38 640.60,333.16 640.26,334.33 639.59,335.11 638.58,335.50 637.57,335.50 636.56,335.11 636.22,334.72 635.88,333.94"/>
<path class="tx" d="M611.01,339.96L610.36,340.73 609.72,341.89 609.07,343.43 608.75,345.36 608.75,346.90 609.07,348.83 609.72,350.37 610.36,351.53 611.01,352.30M613.91,343.04L614.56,342.66 615.53,341.50 615.53,349.60M623.60,344.20L623.27,345.36 622.63,346.13 621.66,346.51 621.34,346.51 620.37,346.13 619.72,345.36 619.40,344.20 619.40,343.81 619.72,342.66 620.37,341.89 621.34,341.50 621.66,341.50 622.63,341.89 623.27,342.66 623.60,344.20 623.60,346.13 623.27,348.06 622.63,349.21 621.66,349.60 621.01,349.60 620.05,349.21 619.72,348.44M626.82,349.21L626.50,349.60 626.18,349.21 626.50,348.83 626.82,349.21 626.82,349.99 626.50,350.76 626.18,351.14M633.28,344.20L632.95,345.36 632.31,346.13 631.34,346.51 631.02,346.51 630.05,346.13 629.40,345.36 629.08,344.20 629.08,343.81 629.40,342.66 630.05,341.89 631.02,341.50 631.34,341.50 632.31,341.89 632.95,342.66 633.28,344.20 633.28,346.13 632.95,348.06 632.31,349.21 631.34,349.60 630.70,349.60 629.73,349.21 629.40,348.44M638.76,341.50L635.54,346.90 640.38,346.90M638.76,341.50L638.76,349.60M641.99,339.96L642.64,340.73 643.28,341.89 643.93,343.43 644.25,345.36 644.25,346.90 643.93,348.83 643.28,350.37 642.64,351.53 641.99,352.30"/>
<line x1="614.9" y1="381.5" x2="638.1" y2="381.5"/>
<path class="tx" d="M614.39,413.80L613.39,414.20 612.73,415.42 612.40,417.44 612.40,418.66 612.73,420.68 613.39,421.90 614.39,422.30 615.05,422.30 616.04,421.90 616.70,420.68 617.03,418.66 617.03,417.44 616.70,415.42 616.04,414.20 615.05,413.80 614.39,413.80M619.68,421.49L619.35,421.90 619.68,422.30 620.01,421.90 619.68,421.49M622.99,413.80L626.63,413.80 624.65,417.04 625.64,417.04 626.30,417.44 626.63,417.85 626.96,419.06 626.96,419.87 626.63,421.09 625.97,421.90 624.98,422.30 623.98,422.30 622.99,421.90 622.66,421.49 622.33,420.68M630.93,413.80L629.94,414.20 629.28,415.42 628.95,417.44 628.95,418.66 629.28,420.68 629.94,421.90 630.93,422.30 631.60,422.30 632.59,421.90 633.25,420.68 633.58,418.66 633.58,417.44 633.25,415.42 632.59,414.20 631.60,413.80 630.93,413.80M637.55,413.80L636.56,414.20 635.90,415.42 635.57,417.44 635.57,418.66 635.90,420.68 636.56,421.90 637.55,422.30 638.21,422.30 639.21,421.90 639.87,420.68 640.20,418.66 640.20,417.44 639.87,415.42 639.21,414.20 638.21,413.80 637.55,413.80"/>
<path class="tx" d="M613.75,426.28L613.08,427.09 612.41,428.30 611.74,429.92 611.40,431.95 611.40,433.57 611.74,435.59 612.41,437.21 613.08,438.42 613.75,439.23M620.46,427.90L617.10,436.40M615.76,427.90L620.46,427.90M623.48,436.00L623.14,436.40 622.81,436.00 623.14,435.59 623.48,436.00 623.48,436.80 623.14,437.61 622.81,438.02M630.19,429.11L629.86,428.30 628.85,427.90 628.18,427.90 627.17,428.30 626.50,429.52 626.16,431.54 626.16,433.57 626.50,435.19 627.17,436.00 628.18,436.40 628.51,436.40 629.52,436.00 630.19,435.19 630.53,433.97 630.53,433.57 630.19,432.35 629.52,431.54 628.51,431.14 628.18,431.14 627.17,431.54 626.50,432.35 626.16,433.57M632.88,429.92L632.88,429.52 633.21,428.71 633.55,428.30 634.22,427.90 635.56,427.90 636.23,428.30 636.57,428.71 636.90,429.52 636.90,430.33 636.57,431.14 635.90,432.35 632.54,436.40 637.24,436.40M639.25,426.28L639.92,427.09 640.59,428.30 641.26,429.92 641.60,431.95 641.60,433.57 641.26,435.59 640.59,437.21 639.92,438.42 639.25,439.23"/>
<path class="tx" d="M614.39,456.70L613.39,457.10 612.73,458.32 612.40,460.34 612.40,461.56 612.73,463.58 613.39,464.80 614.39,465.20 615.05,465.20 616.04,464.80 616.70,463.58 617.03,461.56 617.03,460.34 616.70,458.32 616.04,457.10 615.05,456.70 614.39,456.70M619.68,464.39L619.35,464.80 619.68,465.20 620.01,464.80 619.68,464.39M622.66,458.72L622.66,458.32 622.99,457.51 623.32,457.10 623.98,456.70 625.31,456.70 625.97,457.10 626.30,457.51 626.63,458.32 626.63,459.13 626.30,459.94 625.64,461.15 622.33,465.20 626.96,465.20M632.26,456.70L628.95,462.37 633.91,462.37M632.26,456.70L632.26,465.20M639.54,456.70L636.23,456.70 635.90,460.34 636.23,459.94 637.22,459.53 638.21,459.53 639.21,459.94 639.87,460.75 640.20,461.96 640.20,462.77 639.87,463.99 639.21,464.80 638.21,465.20 637.22,465.20 636.23,464.80 635.90,464.39 635.57,463.58"/>
<path class="tx" d="M613.75,469.24L613.08,470.02 612.41,471.19 611.74,472.75 611.40,474.70 611.40,476.27 611.74,478.22 612.41,479.78 613.08,480.95 613.75,481.73M620.12,471.97L619.79,471.19 618.78,470.80 618.11,470.80 617.10,471.19 616.43,472.36 616.10,474.31 616.10,476.27 616.43,477.83 617.10,478.61 618.11,479.00 618.45,479.00 619.45,478.61 620.12,477.83 620.46,476.66 620.46,476.27 620.12,475.10 619.45,474.31 618.45,473.92 618.11,473.92 617.10,474.31 616.43,475.10 616.10,476.27M623.48,478.61L623.14,479.00 622.81,478.61 623.14,478.22 623.48,478.61 623.48,479.39 623.14,480.17 622.81,480.56M626.16,472.75L626.16,472.36 626.50,471.58 626.84,471.19 627.51,470.80 628.85,470.80 629.52,471.19 629.86,471.58 630.19,472.36 630.19,473.14 629.86,473.92 629.18,475.10 625.83,479.00 630.53,479.00M632.88,472.75L632.88,472.36 633.21,471.58 633.55,471.19 634.22,470.80 635.56,470.80 636.23,471.19 636.57,471.58 636.90,472.36 636.90,473.14 636.57,473.92 635.90,475.10 632.54,479.00 637.24,479.00M639.25,469.24L639.92,470.02 640.59,471.19 641.26,472.75 641.60,474.70 641.60,476.27 641.26,478.22 640.59,479.78 639.92,480.95 639.25,481.73"/>
<path class="tx" d="M670.17,334.72L669.84,335.11 670.17,335.50 670.51,335.11 670.17,334.72M674.55,327.30L673.54,327.69 673.21,328.47 673.21,329.25 673.54,330.03 674.22,330.42 675.56,330.81 676.58,331.20 677.25,331.99 677.59,332.77 677.59,333.94 677.25,334.72 676.91,335.11 675.90,335.50 674.55,335.50 673.54,335.11 673.21,334.72 672.87,333.94 672.87,332.77 673.21,331.99 673.88,331.20 674.89,330.81 676.24,330.42 676.91,330.03 677.25,329.25 677.25,328.47 676.91,327.69 675.90,327.30 674.55,327.30M682.98,327.30L679.61,332.77 684.66,332.77M682.98,327.30L682.98,335.50M688.37,327.30L687.36,327.69 686.68,328.86 686.35,330.81 686.35,331.99 686.68,333.94 687.36,335.11 688.37,335.50 689.04,335.50 690.05,335.11 690.73,333.94 691.06,331.99 691.06,330.81 690.73,328.86 690.05,327.69 689.04,327.30 688.37,327.30"/>
<path class="tx" d="M665.01,339.96L664.36,340.73 663.72,341.89 663.07,343.43 662.75,345.36 662.75,346.90 663.07,348.83 663.72,350.37 664.36,351.53 665.01,352.30M667.27,343.43L667.27,343.04 667.59,342.27 667.91,341.89 668.56,341.50 669.85,341.50 670.50,341.89 670.82,342.27 671.14,343.04 671.14,343.81 670.82,344.59 670.17,345.74 666.95,349.60 671.46,349.60M674.37,343.04L675.01,342.66 675.98,341.50 675.98,349.60M680.82,349.21L680.50,349.60 680.18,349.21 680.50,348.83 680.82,349.21 680.82,349.99 680.50,350.76 680.18,351.14M683.73,341.50L687.28,341.50 685.34,344.59 686.31,344.59 686.95,344.97 687.28,345.36 687.60,346.51 687.60,347.29 687.28,348.44 686.63,349.21 685.66,349.60 684.70,349.60 683.73,349.21 683.40,348.83 683.08,348.06M692.76,341.50L689.54,346.90 694.38,346.90M692.76,341.50L692.76,349.60M695.99,339.96L696.64,340.73 697.28,341.89 697.93,343.43 698.25,345.36 698.25,346.90 697.93,348.83 697.28,350.37 696.64,351.53 695.99,352.30"/>
<line x1="668.9" y1="381.5" x2="692.1" y2="381.5"/>
<path class="tx" d="M668.39,413.80L667.39,414.20 666.73,415.42 666.40,417.44 666.40,418.66 666.73,420.68 667.39,421.90 668.39,422.30 669.05,422.30 670.04,421.90 670.70,420.68 671.03,418.66 671.03,417.44 670.70,415.42 670.04,414.20 669.05,413.80 668.39,413.80M673.68,421.49L673.35,421.90 673.68,422.30 674.01,421.90 673.68,421.49M676.99,413.80L680.63,413.80 678.65,417.04 679.64,417.04 680.30,417.44 680.63,417.85 680.96,419.06 680.96,419.87 680.63,421.09 679.97,421.90 678.98,422.30 677.98,422.30 676.99,421.90 676.66,421.49 676.33,420.68M684.93,413.80L683.94,414.20 683.28,415.42 682.95,417.44 682.95,418.66 683.28,420.68 683.94,421.90 684.93,422.30 685.60,422.30 686.59,421.90 687.25,420.68 687.58,418.66 687.58,417.44 687.25,415.42 686.59,414.20 685.60,413.80 684.93,413.80M691.55,413.80L690.56,414.20 689.90,415.42 689.57,417.44 689.57,418.66 689.90,420.68 690.56,421.90 691.55,422.30 692.21,422.30 693.21,421.90 693.87,420.68 694.20,418.66 694.20,417.44 693.87,415.42 693.21,414.20 692.21,413.80 691.55,413.80"/>
<path class="tx" d="M667.75,426.28L667.08,427.09 666.41,428.30 665.74,429.92 665.40,431.95 665.40,433.57 665.74,435.59 666.41,437.21 667.08,438.42 667.75,439.23M674.46,427.90L671.10,436.40M669.76,427.90L674.46,427.90M677.48,436.00L677.14,436.40 676.81,436.00 677.14,435.59 677.48,436.00 677.48,436.80 677.14,437.61 676.81,438.02M684.19,429.11L683.86,428.30 682.85,427.90 682.18,427.90 681.17,428.30 680.50,429.52 680.16,431.54 680.16,433.57 680.50,435.19 681.17,436.00 682.18,436.40 682.51,436.40 683.52,436.00 684.19,435.19 684.53,433.97 684.53,433.57 684.19,432.35 683.52,431.54 682.51,431.14 682.18,431.14 681.17,431.54 680.50,432.35 680.16,433.57M686.88,429.92L686.88,429.52 687.21,428.71 687.55,428.30 688.22,427.90 689.56,427.90 690.23,428.30 690.57,428.71 690.90,429.52 690.90,430.33 690.57,431.14 689.90,432.35 686.54,436.40 691.24,436.40M693.25,426.28L693.92,427.09 694.59,428.30 695.26,429.92 695.60,431.95 695.60,433.57 695.26,435.59 694.59,437.21 693.92,438.42 693.25,439.23"/>
<path class="tx" d="M668.39,456.70L667.39,457.10 666.73,458.32 666.40,460.34 666.40,461.56 666.73,463.58 667.39,464.80 668.39,465.20 669.05,465.20 670.04,464.80 670.70,463.58 671.03,461.56 671.03,460.34 670.70,458.32 670.04,457.10 669.05,456.70 668.39,456.70M673.68,464.39L673.35,464.80 673.68,465.20 674.01,464.80 673.68,464.39M676.66,458.72L676.66,458.32 676.99,457.51 677.32,457.10 677.98,456.70 679.31,456.70 679.97,457.10 680.30,457.51 680.63,458.32 680.63,459.13 680.30,459.94 679.64,461.15 676.33,465.20 680.96,465.20M686.26,456.70L682.95,462.37 687.91,462.37M686.26,456.70L686.26,465.20M693.54,456.70L690.23,456.70 689.90,460.34 690.23,459.94 691.22,459.53 692.21,459.53 693.21,459.94 693.87,460.75 694.20,461.96 694.20,462.77 693.87,463.99 693.21,464.80 692.21,465.20 691.22,465.20 690.23,464.80 689.90,464.39 689.57,463.58"/>
<path class="tx" d="M667.75,469.24L667.08,470.02 666.41,471.19 665.74,472.75 665.40,474.70 665.40,476.27 665.74,478.22 666.41,479.78 667.08,480.95 667.75,481.73M674.12,471.97L673.79,471.19 672.78,470.80 672.11,470.80 671.10,471.19 670.43,472.36 670.10,474.31 670.10,476.27 670.43,477.83 671.10,478.61 672.11,479.00 672.45,479.00 673.45,478.61 674.12,477.83 674.46,476.66 674.46,476.27 674.12,475.10 673.45,474.31 672.45,473.92 672.11,473.92 671.10,474.31 670.43,475.10 670.10,476.27M677.48,478.61L677.14,479.00 676.81,478.61 677.14,478.22 677.48,478.61 677.48,479.39 677.14,480.17 676.81,480.56M680.16,472.75L680.16,472.36 680.50,471.58 680.84,471.19 681.51,470.80 682.85,470.80 683.52,471.19 683.86,471.58 684.19,472.36 684.19,473.14 683.86,473.92 683.18,475.10 679.83,479.00 684.53,479.00M686.88,472.75L686.88,472.36 687.21,471.58 687.55,471.19 688.22,470.80 689.56,470.80 690.23,471.19 690.57,471.58 690.90,472.36 690.90,473.14 690.57,473.92 689.90,475.10 686.54,479.00 691.24,479.00M693.25,469.24L693.92,470.02 694.59,471.19 695.26,472.75 695.60,474.70 695.60,476.27 695.26,478.22 694.59,479.78 693.92,480.95 693.25,481.73"/>
<path class="tx" d="M722.32,327.30L721.31,327.69 720.64,328.86 720.30,330.81 720.30,331.99 720.64,333.94 721.31,335.11 722.32,335.50 723.00,335.50 724.01,335.11 724.68,333.94 725.02,331.99 725.02,330.81 724.68,328.86 724.01,327.69 723.00,327.30 722.32,327.30M727.71,334.72L727.38,335.11 727.71,335.50 728.05,335.11 727.71,334.72M734.79,330.03L734.45,331.20 733.78,331.99 732.77,332.38 732.43,332.38 731.42,331.99 730.74,331.20 730.41,330.03 730.41,329.64 730.74,328.47 731.42,327.69 732.43,327.30 732.77,327.30 733.78,327.69 734.45,328.47 734.79,330.03 734.79,331.99 734.45,333.94 733.78,335.11 732.77,335.50 732.09,335.50 731.08,335.11 730.74,334.33M741.53,328.47L741.19,327.69 740.18,327.30 739.50,327.30 738.49,327.69 737.82,328.86 737.48,330.81 737.48,332.77 737.82,334.33 738.49,335.11 739.50,335.50 739.84,335.50 740.85,335.11 741.53,334.33 741.86,333.16 741.86,332.77 741.53,331.60 740.85,330.81 739.84,330.42 739.50,330.42 738.49,330.81 737.82,331.60 737.48,332.77M745.90,327.30L744.89,327.69 744.22,328.86 743.88,330.81 743.88,331.99 744.22,333.94 744.89,335.11 745.90,335.50 746.58,335.50 747.59,335.11 748.26,333.94 748.60,331.99 748.60,330.81 748.26,328.86 747.59,327.69 746.58,327.30 745.90,327.30"/>
<path class="tx" d="M719.01,339.96L718.36,340.73 717.72,341.89 717.07,343.43 716.75,345.36 716.75,346.90 717.07,348.83 717.72,350.37 718.36,351.53 719.01,352.30M721.27,343.43L721.27,343.04 721.59,342.27 721.91,341.89 722.56,341.50 723.85,341.50 724.50,341.89 724.82,342.27 725.14,343.04 725.14,343.81 724.82,344.59 724.17,345.74 720.95,349.60 725.46,349.60M730.63,341.50L727.40,346.90 732.24,346.90M730.63,341.50L730.63,349.60M734.82,349.21L734.50,349.60 734.18,349.21 734.50,348.83 734.82,349.21 734.82,349.99 734.50,350.76 734.18,351.14M737.73,341.50L741.28,341.50 739.34,344.59 740.31,344.59 740.95,344.97 741.28,345.36 741.60,346.51 741.60,347.29 741.28,348.44 740.63,349.21 739.66,349.60 738.70,349.60 737.73,349.21 737.40,348.83 737.08,348.06M745.15,341.50L744.18,341.89 743.86,342.66 743.86,343.43 744.18,344.20 744.83,344.59 746.12,344.97 747.09,345.36 747.73,346.13 748.05,346.90 748.05,348.06 747.73,348.83 747.41,349.21 746.44,349.60 745.15,349.60 744.18,349.21 743.86,348.83 743.54,348.06 743.54,346.90 743.86,346.13 744.50,345.36 745.47,344.97 746.76,344.59 747.41,344.20 747.73,343.43 747.73,342.66 747.41,341.89 746.44,341.50 745.15,341.50M749.99,339.96L750.64,340.73 751.28,341.89 751.93,343.43 752.25,345.36 752.25,346.90 751.93,348.83 751.28,350.37 750.64,351.53 749.99,352.30"/>
<line x1="722.9" y1="381.5" x2="746.1" y2="381.5"/>
<path class="tx" d="M722.39,413.80L721.39,414.20 720.73,415.42 720.40,417.44 720.40,418.66 720.73,420.68 721.39,421.90 722.39,422.30 723.05,422.30 724.04,421.90 724.70,420.68 725.03,418.66 725.03,417.44 724.70,415.42 724.04,414.20 723.05,413.80 722.39,413.80M727.68,421.49L727.35,421.90 727.68,422.30 728.01,421.90 727.68,421.49M730.99,413.80L734.63,413.80 732.65,417.04 733.64,417.04 734.30,417.44 734.63,417.85 734.96,419.06 734.96,419.87 734.63,421.09 733.97,421.90 732.98,422.30 731.98,422.30 730.99,421.90 730.66,421.49 730.33,420.68M737.94,415.42L738.60,415.01 739.60,413.80 739.60,422.30M745.55,413.80L744.56,414.20 743.90,415.42 743.57,417.44 743.57,418.66 743.90,420.68 744.56,421.90 745.55,422.30 746.21,422.30 747.21,421.90 747.87,420.68 748.20,418.66 748.20,417.44 747.87,415.42 747.21,414.20 746.21,413.80 745.55,413.80"/>
<path class="tx" d="M721.75,426.28L721.08,427.09 720.41,428.30 719.74,429.92 719.40,431.95 719.40,433.57 719.74,435.59 720.41,437.21 721.08,438.42 721.75,439.23M728.46,427.90L725.10,436.40M723.76,427.90L728.46,427.90M731.48,436.00L731.14,436.40 730.81,436.00 731.14,435.59 731.48,436.00 731.48,436.80 731.14,437.61 730.81,438.02M735.51,427.90L734.50,428.30 734.16,429.11 734.16,429.92 734.50,430.73 735.17,431.14 736.51,431.54 737.52,431.95 738.19,432.76 738.53,433.57 738.53,434.78 738.19,435.59 737.86,436.00 736.85,436.40 735.51,436.40 734.50,436.00 734.16,435.59 733.83,434.78 733.83,433.57 734.16,432.76 734.84,431.95 735.84,431.54 737.18,431.14 737.86,430.73 738.19,429.92 738.19,429.11 737.86,428.30 736.85,427.90 735.51,427.90M745.24,427.90L741.88,436.40M740.54,427.90L745.24,427.90M747.25,426.28L747.92,427.09 748.59,428.30 749.26,429.92 749.60,431.95 749.60,433.57 749.26,435.59 748.59,437.21 747.92,438.42 747.25,439.23"/>
<path class="tx" d="M722.39,456.70L721.39,457.10 720.73,458.32 720.40,460.34 720.40,461.56 720.73,463.58 721.39,464.80 722.39,465.20 723.05,465.20 724.04,464.80 724.70,463.58 725.03,461.56 725.03,460.34 724.70,458.32 724.04,457.10 723.05,456.70 722.39,456.70M727.68,464.39L727.35,464.80 727.68,465.20 728.01,464.80 727.68,464.39M730.66,458.72L730.66,458.32 730.99,457.51 731.32,457.10 731.98,456.70 733.31,456.70 733.97,457.10 734.30,457.51 734.63,458.32 734.63,459.13 734.30,459.94 733.64,461.15 730.33,465.20 734.96,465.20M737.28,458.72L737.28,458.32 737.61,457.51 737.94,457.10 738.60,456.70 739.93,456.70 740.59,457.10 740.92,457.51 741.25,458.32 741.25,459.13 740.92,459.94 740.26,461.15 736.95,465.20 741.58,465.20M745.55,456.70L744.56,457.10 743.90,458.32 743.57,460.34 743.57,461.56 743.90,463.58 744.56,464.80 745.55,465.20 746.21,465.20 747.21,464.80 747.87,463.58 748.20,461.56 748.20,460.34 747.87,458.32 747.21,457.10 746.21,456.70 745.55,456.70"/>
<path class="tx" d="M721.75,469.24L721.08,470.02 720.41,471.19 719.74,472.75 719.40,474.70 719.40,476.27 719.74,478.22 720.41,479.78 721.08,480.95 721.75,481.73M727.79,470.80L724.43,470.80 724.10,474.31 724.43,473.92 725.44,473.53 726.45,473.53 727.45,473.92 728.12,474.70 728.46,475.88 728.46,476.66 728.12,477.83 727.45,478.61 726.45,479.00 725.44,479.00 724.43,478.61 724.10,478.22 723.76,477.44M731.48,478.61L731.14,479.00 730.81,478.61 731.14,478.22 731.48,478.61 731.48,479.39 731.14,480.17 730.81,480.56M737.86,470.80L734.50,470.80 734.16,474.31 734.50,473.92 735.51,473.53 736.51,473.53 737.52,473.92 738.19,474.70 738.53,475.88 738.53,476.66 738.19,477.83 737.52,478.61 736.51,479.00 735.51,479.00 734.50,478.61 734.16,478.22 733.83,477.44M744.90,473.53L744.57,474.70 743.90,475.49 742.89,475.88 742.55,475.88 741.55,475.49 740.88,474.70 740.54,473.53 740.54,473.14 740.88,471.97 741.55,471.19 742.55,470.80 742.89,470.80 743.90,471.19 744.57,471.97 744.90,473.53 744.90,475.49 744.57,477.44 743.90,478.61 742.89,479.00 742.22,479.00 741.21,478.61 740.88,477.83M747.25,469.24L747.92,470.02 748.59,471.19 749.26,472.75 749.60,474.70 749.60,476.27 749.26,478.22 748.59,479.78 747.92,480.95 747.25,481.73"/>
<path class="tx" d="M774.81,328.86L775.48,328.47 776.49,327.30 776.49,335.50M781.21,334.72L780.87,335.11 781.21,335.50 781.54,335.11 781.21,334.72M785.92,327.30L784.91,327.69 784.24,328.86 783.90,330.81 783.90,331.99 784.24,333.94 784.91,335.11 785.92,335.50 786.60,335.50 787.61,335.11 788.28,333.94 788.62,331.99 788.62,330.81 788.28,328.86 787.61,327.69 786.60,327.30 785.92,327.30M795.02,328.47L794.68,327.69 793.67,327.30 793.00,327.30 791.99,327.69 791.31,328.86 790.98,330.81 790.98,332.77 791.31,334.33 791.99,335.11 793.00,335.50 793.34,335.50 794.35,335.11 795.02,334.33 795.36,333.16 795.36,332.77 795.02,331.60 794.35,330.81 793.34,330.42 793.00,330.42 791.99,330.81 791.31,331.60 790.98,332.77M799.40,327.30L798.39,327.69 797.71,328.86 797.38,330.81 797.38,331.99 797.71,333.94 798.39,335.11 799.40,335.50 800.07,335.50 801.08,335.11 801.76,333.94 802.09,331.99 802.09,330.81 801.76,328.86 801.08,327.69 800.07,327.30 799.40,327.30"/>
<path class="tx" d="M773.01,339.96L772.36,340.73 771.72,341.89 771.07,343.43 770.75,345.36 770.75,346.90 771.07,348.83 771.72,350.37 772.36,351.53 773.01,352.30M775.27,343.43L775.27,343.04 775.59,342.27 775.91,341.89 776.56,341.50 777.85,341.50 778.50,341.89 778.82,342.27 779.14,343.04 779.14,343.81 778.82,344.59 778.17,345.74 774.95,349.60 779.46,349.60M785.60,342.66L785.27,341.89 784.30,341.50 783.66,341.50 782.69,341.89 782.05,343.04 781.72,344.97 781.72,346.90 782.05,348.44 782.69,349.21 783.66,349.60 783.98,349.60 784.95,349.21 785.60,348.44 785.92,347.29 785.92,346.90 785.60,345.74 784.95,344.97 783.98,344.59 783.66,344.59 782.69,344.97 782.05,345.74 781.72,346.90M788.82,349.21L788.50,349.60 788.18,349.21 788.50,348.83 788.82,349.21 788.82,349.99 788.50,350.76 788.18,351.14M795.28,344.20L794.95,345.36 794.31,346.13 793.34,346.51 793.02,346.51 792.05,346.13 791.40,345.36 791.08,344.20 791.08,343.81 791.40,342.66 792.05,341.89 793.02,341.50 793.34,341.50 794.31,341.89 794.95,342.66 795.28,344.20 795.28,346.13 794.95,348.06 794.31,349.21 793.34,349.60 792.70,349.60 791.73,349.21 791.40,348.44M797.86,343.43L797.86,343.04 798.18,342.27 798.50,341.89 799.15,341.50 800.44,341.50 801.09,341.89 801.41,342.27 801.73,343.04 801.73,343.81 801.41,344.59 800.76,345.74 797.54,349.60 802.05,349.60M803.99,339.96L804.64,340.73 805.28,341.89 805.93,343.43 806.25,345.36 806.25,346.90 805.93,348.83 805.28,350.37 804.64,351.53 803.99,352.30"/>
<line x1="776.9" y1="381.5" x2="800.1" y2="381.5"/>
<path class="tx" d="M776.39,413.80L775.39,414.20 774.73,415.42 774.40,417.44 774.40,418.66 774.73,420.68 775.39,421.90 776.39,422.30 777.05,422.30 778.04,421.90 778.70,420.68 779.03,418.66 779.03,417.44 778.70,415.42 778.04,414.20 777.05,413.80 776.39,413.80M781.68,421.49L781.35,421.90 781.68,422.30 782.01,421.90 781.68,421.49M784.99,413.80L788.63,413.80 786.65,417.04 787.64,417.04 788.30,417.44 788.63,417.85 788.96,419.06 788.96,419.87 788.63,421.09 787.97,421.90 786.98,422.30 785.98,422.30 784.99,421.90 784.66,421.49 784.33,420.68M792.93,413.80L791.94,414.20 791.28,415.42 790.95,417.44 790.95,418.66 791.28,420.68 791.94,421.90 792.93,422.30 793.60,422.30 794.59,421.90 795.25,420.68 795.58,418.66 795.58,417.44 795.25,415.42 794.59,414.20 793.60,413.80 792.93,413.80M799.55,413.80L798.56,414.20 797.90,415.42 797.57,417.44 797.57,418.66 797.90,420.68 798.56,421.90 799.55,422.30 800.21,422.30 801.21,421.90 801.87,420.68 802.20,418.66 802.20,417.44 801.87,415.42 801.21,414.20 800.21,413.80 799.55,413.80"/>
<path class="tx" d="M775.75,426.28L775.08,427.09 774.41,428.30 773.74,429.92 773.40,431.95 773.40,433.57 773.74,435.59 774.41,437.21 775.08,438.42 775.75,439.23M782.46,427.90L779.10,436.40M777.76,427.90L782.46,427.90M785.48,436.00L785.14,436.40 784.81,436.00 785.14,435.59 785.48,436.00 785.48,436.80 785.14,437.61 784.81,438.02M792.19,429.11L791.86,428.30 790.85,427.90 790.18,427.90 789.17,428.30 788.50,429.52 788.16,431.54 788.16,433.57 788.50,435.19 789.17,436.00 790.18,436.40 790.51,436.40 791.52,436.00 792.19,435.19 792.53,433.97 792.53,433.57 792.19,432.35 791.52,431.54 790.51,431.14 790.18,431.14 789.17,431.54 788.50,432.35 788.16,433.57M794.88,429.92L794.88,429.52 795.21,428.71 795.55,428.30 796.22,427.90 797.56,427.90 798.23,428.30 798.57,428.71 798.90,429.52 798.90,430.33 798.57,431.14 797.90,432.35 794.54,436.40 799.24,436.40M801.25,426.28L801.92,427.09 802.59,428.30 803.26,429.92 803.60,431.95 803.60,433.57 803.26,435.59 802.59,437.21 801.92,438.42 801.25,439.23"/>
<path class="tx" d="M776.39,456.70L775.39,457.10 774.73,458.32 774.40,460.34 774.40,461.56 774.73,463.58 775.39,464.80 776.39,465.20 777.05,465.20 778.04,464.80 778.70,463.58 779.03,461.56 779.03,460.34 778.70,458.32 778.04,457.10 777.05,456.70 776.39,456.70M781.68,464.39L781.35,464.80 781.68,465.20 782.01,464.80 781.68,464.39M784.66,458.72L784.66,458.32 784.99,457.51 785.32,457.10 785.98,456.70 787.31,456.70 787.97,457.10 788.30,457.51 788.63,458.32 788.63,459.13 788.30,459.94 787.64,461.15 784.33,465.20 788.96,465.20M794.26,456.70L790.95,462.37 795.91,462.37M794.26,456.70L794.26,465.20M801.54,456.70L798.23,456.70 797.90,460.34 798.23,459.94 799.22,459.53 800.21,459.53 801.21,459.94 801.87,460.75 802.20,461.96 802.20,462.77 801.87,463.99 801.21,464.80 800.21,465.20 799.22,465.20 798.23,464.80 797.90,464.39 797.57,463.58"/>
<path class="tx" d="M775.75,469.24L775.08,470.02 774.41,471.19 773.74,472.75 773.40,474.70 773.40,476.27 773.74,478.22 774.41,479.78 775.08,480.95 775.75,481.73M782.12,471.97L781.79,471.19 780.78,470.80 780.11,470.80 779.10,471.19 778.43,472.36 778.10,474.31 778.10,476.27 778.43,477.83 779.10,478.61 780.11,479.00 780.45,479.00 781.45,478.61 782.12,477.83 782.46,476.66 782.46,476.27 782.12,475.10 781.45,474.31 780.45,473.92 780.11,473.92 779.10,474.31 778.43,475.10 778.10,476.27M785.48,478.61L785.14,479.00 784.81,478.61 785.14,478.22 785.48,478.61 785.48,479.39 785.14,480.17 784.81,480.56M788.16,472.75L788.16,472.36 788.50,471.58 788.84,471.19 789.51,470.80 790.85,470.80 791.52,471.19 791.86,471.58 792.19,472.36 792.19,473.14 791.86,473.92 791.18,475.10 787.83,479.00 792.53,479.00M794.88,472.75L794.88,472.36 795.21,471.58 795.55,471.19 796.22,470.80 797.56,470.80 798.23,471.19 798.57,471.58 798.90,472.36 798.90,473.14 798.57,473.92 797.90,475.10 794.54,479.00 799.24,479.00M801.25,469.24L801.92,470.02 802.59,471.19 803.26,472.75 803.60,474.70 803.60,476.27 803.26,478.22 802.59,479.78 801.92,480.95 801.25,481.73"/>
<line x1="138.5" y1="563" x2="138.5" y2="598.7"/>
<line x1="152" y1="563" x2="152" y2="623"/>
<polygon class="ah" points="138.5,570.5 130.5,566.1 130.5,574.9"/>
<line x1="138.5" y1="570.5" x2="121.2" y2="570.5"/>
<polygon class="ah" points="152,570.5 160,574.9 160,566.1"/>
<line x1="152" y1="570.5" x2="173.8" y2="570.5"/>
<path class="tx" d="M181.86,566.50L180.88,566.88 180.23,568.02 179.90,569.93 179.90,571.07 180.23,572.98 180.88,574.12 181.86,574.50 182.51,574.50 183.49,574.12 184.15,572.98 184.47,571.07 184.47,569.93 184.15,568.02 183.49,566.88 182.51,566.50 181.86,566.50M187.08,573.74L186.76,574.12 187.08,574.50 187.41,574.12 187.08,573.74M191.66,566.50L190.68,566.88 190.02,568.02 189.70,569.93 189.70,571.07 190.02,572.98 190.68,574.12 191.66,574.50 192.31,574.50 193.29,574.12 193.94,572.98 194.27,571.07 194.27,569.93 193.94,568.02 193.29,566.88 192.31,566.50 191.66,566.50M198.19,566.50L197.21,566.88 196.55,568.02 196.23,569.93 196.23,571.07 196.55,572.98 197.21,574.12 198.19,574.50 198.84,574.50 199.82,574.12 200.47,572.98 200.80,571.07 200.80,569.93 200.47,568.02 199.82,566.88 198.84,566.50 198.19,566.50M206.68,566.50L203.41,566.50 203.09,569.93 203.41,569.55 204.39,569.17 205.37,569.17 206.35,569.55 207.01,570.31 207.33,571.45 207.33,572.21 207.01,573.36 206.35,574.12 205.37,574.50 204.39,574.50 203.41,574.12 203.09,573.74 202.76,572.98M217.78,564.98L217.13,565.74 216.48,566.88 215.82,568.40 215.50,570.31 215.50,571.83 215.82,573.74 216.48,575.26 217.13,576.40 217.78,577.17M221.70,566.50L220.72,566.88 220.07,568.02 219.74,569.93 219.74,571.07 220.07,572.98 220.72,574.12 221.70,574.50 222.35,574.50 223.33,574.12 223.99,572.98 224.31,571.07 224.31,569.93 223.99,568.02 223.33,566.88 222.35,566.50 221.70,566.50M227.25,574.12L226.93,574.50 226.60,574.12 226.93,573.74 227.25,574.12 227.25,574.88 226.93,575.64 226.60,576.02M230.52,568.02L231.17,567.64 232.15,566.50 232.15,574.50M236.72,566.50L240.32,566.50 238.36,569.55 239.34,569.55 239.99,569.93 240.32,570.31 240.64,571.45 240.64,572.21 240.32,573.36 239.66,574.12 238.68,574.50 237.70,574.50 236.72,574.12 236.40,573.74 236.07,572.98M242.60,564.98L243.25,565.74 243.91,566.88 244.56,568.40 244.89,570.31 244.89,571.83 244.56,573.74 243.91,575.26 243.25,576.40 242.60,577.17M253.38,566.50L253.38,574.50M253.38,566.50L255.99,574.50M258.60,566.50L255.99,574.50M258.60,566.50L258.60,574.50M261.22,566.50L261.22,574.50M263.83,566.50L263.83,574.50M263.83,566.50L268.40,574.50M268.40,566.50L268.40,574.50"/>
<line x1="138.5" y1="603" x2="350" y2="603"/>
<line x1="138.5" y1="603" x2="138.5" y2="654.9"/>
<line x1="350" y1="603" x2="350" y2="654.9"/>
<line x1="138.5" y1="654.9" x2="350" y2="654.9"/>
<line x1="138.5" y1="623.5" x2="350" y2="623.5"/>
<line x1="138.5" y1="634.5" x2="350" y2="634.5"/>
<path d="M 152 627.5 L 168.1 627.5 L 168.1 664.8 Q 168.1 667 165.9 667 L 163.3 667 L 163.3 708.5 L 157.3 708.5 L 157.3 667 L 154.2 667 Q 152 667 152 664.8 Z" fill="#fff"/>
<path d="M 180.08 627.5 L 196.18 627.5 L 196.18 664.8 Q 196.18 667 193.98 667 L 191.38 667 L 191.38 708.5 L 185.38 708.5 L 185.38 667 L 182.28 667 Q 180.08 667 180.08 664.8 Z" fill="#fff"/>
<path d="M 208.16 627.5 L 224.26 627.5 L 224.26 664.8 Q 224.26 667 222.06 667 L 219.46 667 L 219.46 708.5 L 213.46 708.5 L 213.46 667 L 210.36 667 Q 208.16 667 208.16 664.8 Z" fill="#fff"/>
<path d="M 236.24 627.5 L 252.34 627.5 L 252.34 664.8 Q 252.34 667 250.14 667 L 247.54 667 L 247.54 708.5 L 241.54 708.5 L 241.54 667 L 238.44 667 Q 236.24 667 236.24 664.8 Z" fill="#fff"/>
<path d="M 264.32 627.5 L 280.42 627.5 L 280.42 664.8 Q 280.42 667 278.22 667 L 275.62 667 L 275.62 708.5 L 269.62 708.5 L 269.62 667 L 266.52 667 Q 264.32 667 264.32 664.8 Z" fill="#fff"/>
<path d="M 292.4 627.5 L 308.5 627.5 L 308.5 664.8 Q 308.5 667 306.3 667 L 303.7 667 L 303.7 708.5 L 297.7 708.5 L 297.7 667 L 294.6 667 Q 292.4 667 292.4 664.8 Z" fill="#fff"/>
<path d="M 320.48 627.5 L 336.58 627.5 L 336.58 664.8 Q 336.58 667 334.38 667 L 331.78 667 L 331.78 708.5 L 325.78 708.5 L 325.78 667 L 322.68 667 Q 320.48 667 320.48 664.8 Z" fill="#fff"/>
<path class="tx" d="M346.36,555.90L345.38,556.26 344.73,557.33 344.40,559.11 344.40,560.19 344.73,561.97 345.38,563.04 346.36,563.40 347.02,563.40 348.00,563.04 348.65,561.97 348.98,560.19 348.98,559.11 348.65,557.33 348.00,556.26 347.02,555.90 346.36,555.90M351.60,562.69L351.27,563.04 351.60,563.40 351.92,563.04 351.60,562.69M356.18,555.90L355.20,556.26 354.54,557.33 354.21,559.11 354.21,560.19 354.54,561.97 355.20,563.04 356.18,563.40 356.83,563.40 357.81,563.04 358.47,561.97 358.79,560.19 358.79,559.11 358.47,557.33 357.81,556.26 356.83,555.90 356.18,555.90M365.01,556.97L364.68,556.26 363.70,555.90 363.05,555.90 362.07,556.26 361.41,557.33 361.08,559.11 361.08,560.90 361.41,562.33 362.07,563.04 363.05,563.40 363.37,563.40 364.36,563.04 365.01,562.33 365.34,561.26 365.34,560.90 365.01,559.83 364.36,559.11 363.37,558.76 363.05,558.76 362.07,559.11 361.41,559.83 361.08,560.90M369.26,555.90L368.28,556.26 367.63,557.33 367.30,559.11 367.30,560.19 367.63,561.97 368.28,563.04 369.26,563.40 369.92,563.40 370.90,563.04 371.55,561.97 371.88,560.19 371.88,559.11 371.55,557.33 370.90,556.26 369.92,555.90 369.26,555.90M382.35,554.47L381.69,555.19 381.04,556.26 380.38,557.69 380.06,559.47 380.06,560.90 380.38,562.69 381.04,564.11 381.69,565.19 382.35,565.90M385.29,557.33L385.95,556.97 386.93,555.90 386.93,563.40M391.83,563.04L391.51,563.40 391.18,563.04 391.51,562.69 391.83,563.04 391.83,563.76 391.51,564.47 391.18,564.83M398.05,555.90L394.78,555.90 394.45,559.11 394.78,558.76 395.76,558.40 396.74,558.40 397.72,558.76 398.38,559.47 398.70,560.54 398.70,561.26 398.38,562.33 397.72,563.04 396.74,563.40 395.76,563.40 394.78,563.04 394.45,562.69 394.12,561.97M400.99,557.69L400.99,557.33 401.32,556.61 401.65,556.26 402.30,555.90 403.61,555.90 404.27,556.26 404.59,556.61 404.92,557.33 404.92,558.04 404.59,558.76 403.94,559.83 400.67,563.40 405.25,563.40M407.21,554.47L407.86,555.19 408.52,556.26 409.17,557.69 409.50,559.47 409.50,560.90 409.17,562.69 408.52,564.11 407.86,565.19 407.21,565.90"/>
<line x1="343.9" y1="567.5" x2="410.5" y2="567.5"/>
<path class="tx" d="M346.36,571.30L345.38,571.66 344.73,572.73 344.40,574.51 344.40,575.59 344.73,577.37 345.38,578.44 346.36,578.80 347.02,578.80 348.00,578.44 348.65,577.37 348.98,575.59 348.98,574.51 348.65,572.73 348.00,571.66 347.02,571.30 346.36,571.30M351.60,578.09L351.27,578.44 351.60,578.80 351.92,578.44 351.60,578.09M356.18,571.30L355.20,571.66 354.54,572.73 354.21,574.51 354.21,575.59 354.54,577.37 355.20,578.44 356.18,578.80 356.83,578.80 357.81,578.44 358.47,577.37 358.79,575.59 358.79,574.51 358.47,572.73 357.81,571.66 356.83,571.30 356.18,571.30M361.74,572.73L362.39,572.37 363.37,571.30 363.37,578.80M371.23,571.30L367.95,571.30 367.63,574.51 367.95,574.16 368.94,573.80 369.92,573.80 370.90,574.16 371.55,574.87 371.88,575.94 371.88,576.66 371.55,577.73 370.90,578.44 369.92,578.80 368.94,578.80 367.95,578.44 367.63,578.09 367.30,577.37M382.35,569.87L381.69,570.59 381.04,571.66 380.38,573.09 380.06,574.87 380.06,576.30 380.38,578.09 381.04,579.51 381.69,580.59 382.35,581.30M386.27,571.30L385.29,571.66 384.64,572.73 384.31,574.51 384.31,575.59 384.64,577.37 385.29,578.44 386.27,578.80 386.93,578.80 387.91,578.44 388.56,577.37 388.89,575.59 388.89,574.51 388.56,572.73 387.91,571.66 386.93,571.30 386.27,571.30M391.83,578.44L391.51,578.80 391.18,578.44 391.51,578.09 391.83,578.44 391.83,579.16 391.51,579.87 391.18,580.23M394.78,571.30L398.38,571.30 396.41,574.16 397.40,574.16 398.05,574.51 398.38,574.87 398.70,575.94 398.70,576.66 398.38,577.73 397.72,578.44 396.74,578.80 395.76,578.80 394.78,578.44 394.45,578.09 394.12,577.37M402.30,571.30L401.32,571.66 400.99,572.37 400.99,573.09 401.32,573.80 401.98,574.16 403.28,574.51 404.27,574.87 404.92,575.59 405.25,576.30 405.25,577.37 404.92,578.09 404.59,578.44 403.61,578.80 402.30,578.80 401.32,578.44 400.99,578.09 400.67,577.37 400.67,576.30 400.99,575.59 401.65,574.87 402.63,574.51 403.94,574.16 404.59,573.80 404.92,573.09 404.92,572.37 404.59,571.66 403.61,571.30 402.30,571.30M407.21,569.87L407.86,570.59 408.52,571.66 409.17,573.09 409.50,574.87 409.50,576.30 409.17,578.09 408.52,579.51 407.86,580.59 407.21,581.30"/>
<line x1="355.3" y1="603" x2="442.8" y2="603"/>
<line x1="355.3" y1="654.9" x2="382.5" y2="654.9"/>
<polygon class="ah" points="374,654.9 378.4,646.9 369.6,646.9"/>
<line x1="374" y1="654.9" x2="374" y2="584.3"/>
<polygon class="ah" points="374,667.5 369.6,675.5 378.4,675.5"/>
<line x1="374" y1="667.5" x2="374" y2="684.5"/>
<polygon class="ah" points="433.5,603 429.1,611 437.9,611"/>
<line x1="433.5" y1="603" x2="433.5" y2="625"/>
<polygon class="ah" points="433.5,667.5 437.9,659.5 429.1,659.5"/>
<line x1="433.5" y1="667.5" x2="433.5" y2="647"/>
<path class="tx" d="M394.52,631.10L393.51,631.50 392.84,632.72 392.50,634.74 392.50,635.96 392.84,637.98 393.51,639.20 394.52,639.60 395.19,639.60 396.20,639.20 396.87,637.98 397.21,635.96 397.21,634.74 396.87,632.72 396.20,631.50 395.19,631.10 394.52,631.10M399.90,638.79L399.56,639.20 399.90,639.60 400.24,639.20 399.90,638.79M402.93,633.12L402.93,632.72 403.27,631.91 403.60,631.50 404.27,631.10 405.62,631.10 406.29,631.50 406.63,631.91 406.97,632.72 406.97,633.53 406.63,634.34 405.96,635.55 402.59,639.60 407.30,639.60M411.34,631.10L410.33,631.50 409.66,632.72 409.32,634.74 409.32,635.96 409.66,637.98 410.33,639.20 411.34,639.60 412.01,639.60 413.02,639.20 413.69,637.98 414.03,635.96 414.03,634.74 413.69,632.72 413.02,631.50 412.01,631.10 411.34,631.10M418.07,631.10L417.06,631.50 416.39,632.72 416.05,634.74 416.05,635.96 416.39,637.98 417.06,639.20 418.07,639.60 418.74,639.60 419.75,639.20 420.42,637.98 420.76,635.96 420.76,634.74 420.42,632.72 419.75,631.50 418.74,631.10 418.07,631.10M431.53,629.48L430.85,630.29 430.18,631.50 429.51,633.12 429.17,635.15 429.17,636.77 429.51,638.79 430.18,640.41 430.85,641.62 431.53,642.43M437.58,631.10L434.22,631.10 433.88,634.74 434.22,634.34 435.23,633.93 436.24,633.93 437.25,634.34 437.92,635.15 438.25,636.36 438.25,637.17 437.92,638.39 437.25,639.20 436.24,639.60 435.23,639.60 434.22,639.20 433.88,638.79 433.54,637.98M441.28,639.20L440.95,639.60 440.61,639.20 440.95,638.79 441.28,639.20 441.28,640.00 440.95,640.81 440.61,641.22M445.66,631.10L444.65,631.50 443.97,632.72 443.64,634.74 443.64,635.96 443.97,637.98 444.65,639.20 445.66,639.60 446.33,639.60 447.34,639.20 448.01,637.98 448.35,635.96 448.35,634.74 448.01,632.72 447.34,631.50 446.33,631.10 445.66,631.10M452.05,631.10L451.04,631.50 450.70,632.31 450.70,633.12 451.04,633.93 451.71,634.34 453.06,634.74 454.07,635.15 454.74,635.96 455.08,636.77 455.08,637.98 454.74,638.79 454.40,639.20 453.39,639.60 452.05,639.60 451.04,639.20 450.70,638.79 450.37,637.98 450.37,636.77 450.70,635.96 451.38,635.15 452.38,634.74 453.73,634.34 454.40,633.93 454.74,633.12 454.74,632.31 454.40,631.50 453.39,631.10 452.05,631.10M457.09,629.48L457.77,630.29 458.44,631.50 459.11,633.12 459.45,635.15 459.45,636.77 459.11,638.79 458.44,640.41 457.77,641.62 457.09,642.43M468.20,631.10L468.20,639.60M468.20,631.10L470.89,639.60M473.58,631.10L470.89,639.60M473.58,631.10L473.58,639.60M477.95,631.10L475.26,639.60M477.95,631.10L480.64,639.60M476.27,636.77L479.63,636.77M481.99,631.10L486.70,639.60M481.99,639.60L486.70,631.10"/>
<line x1="341" y1="667.5" x2="598" y2="667.5"/>
<path class="tx" d="M498.00,653.79L497.33,652.93 496.32,652.50 494.98,652.50 493.97,652.93 493.30,653.79 493.30,654.64 493.64,655.50 493.97,655.93 494.64,656.36 496.66,657.21 497.33,657.64 497.67,658.07 498.00,658.93 498.00,660.21 497.33,661.07 496.32,661.50 494.98,661.50 493.97,661.07 493.30,660.21M500.02,658.07L504.05,658.07 504.05,657.21 503.71,656.36 503.38,655.93 502.70,655.50 501.70,655.50 501.02,655.93 500.35,656.79 500.02,658.07 500.02,658.93 500.35,660.21 501.02,661.07 501.70,661.50 502.70,661.50 503.38,661.07 504.05,660.21M510.09,655.50L510.09,661.50M510.09,656.79L509.42,655.93 508.75,655.50 507.74,655.50 507.07,655.93 506.40,656.79 506.06,658.07 506.06,658.93 506.40,660.21 507.07,661.07 507.74,661.50 508.75,661.50 509.42,661.07 510.09,660.21M513.12,652.50L513.12,659.79 513.45,661.07 514.12,661.50 514.79,661.50M512.11,655.50L514.46,655.50M516.47,652.50L516.81,652.93 517.15,652.50 516.81,652.07 516.47,652.50M516.81,655.50L516.81,661.50M519.50,655.50L519.50,661.50M519.50,657.21L520.50,655.93 521.18,655.50 522.18,655.50 522.85,655.93 523.19,657.21 523.19,661.50M529.57,655.50L529.57,662.36 529.24,663.64 528.90,664.07 528.23,664.50 527.22,664.50 526.55,664.07M529.57,656.79L528.90,655.93 528.23,655.50 527.22,655.50 526.55,655.93 525.88,656.79 525.54,658.07 525.54,658.93 525.88,660.21 526.55,661.07 527.22,661.50 528.23,661.50 528.90,661.07 529.57,660.21M538.30,652.50L538.30,661.50M538.30,652.50L541.33,652.50 542.33,652.93 542.67,653.36 543.01,654.21 543.01,655.50 542.67,656.36 542.33,656.79 541.33,657.21 538.30,657.21M545.36,652.50L545.36,661.50M551.74,655.50L551.74,661.50M551.74,656.79L551.07,655.93 550.39,655.50 549.39,655.50 548.72,655.93 548.04,656.79 547.71,658.07 547.71,658.93 548.04,660.21 548.72,661.07 549.39,661.50 550.39,661.50 551.07,661.07 551.74,660.21M554.42,655.50L554.42,661.50M554.42,657.21L555.43,655.93 556.10,655.50 557.11,655.50 557.78,655.93 558.12,657.21 558.12,661.50M560.47,658.07L564.50,658.07 564.50,657.21 564.16,656.36 563.83,655.93 563.16,655.50 562.15,655.50 561.48,655.93 560.81,656.79 560.47,658.07 560.47,658.93 560.81,660.21 561.48,661.07 562.15,661.50 563.16,661.50 563.83,661.07 564.50,660.21"/>
<line x1="336.7" y1="708.5" x2="442.8" y2="708.5"/>
<polygon class="ah" points="433.5,708.5 429.1,716.5 437.9,716.5"/>
<line x1="433.5" y1="708.5" x2="433.5" y2="729.5"/>
<path class="tx" d="M402.25,683.30L401.28,683.69 400.63,684.86 400.30,686.81 400.30,687.99 400.63,689.94 401.28,691.11 402.25,691.50 402.91,691.50 403.88,691.11 404.54,689.94 404.86,687.99 404.86,686.81 404.54,684.86 403.88,683.69 402.91,683.30 402.25,683.30M407.47,690.72L407.14,691.11 407.47,691.50 407.79,691.11 407.47,690.72M411.05,684.86L411.70,684.47 412.68,683.30 412.68,691.50M417.24,683.30L420.83,683.30 418.87,686.42 419.85,686.42 420.50,686.81 420.83,687.20 421.15,688.38 421.15,689.16 420.83,690.33 420.18,691.11 419.20,691.50 418.22,691.50 417.24,691.11 416.92,690.72 416.59,689.94M425.06,683.30L424.09,683.69 423.43,684.86 423.11,686.81 423.11,687.99 423.43,689.94 424.09,691.11 425.06,691.50 425.71,691.50 426.69,691.11 427.34,689.94 427.67,687.99 427.67,686.81 427.34,684.86 426.69,683.69 425.71,683.30 425.06,683.30M438.10,681.74L437.44,682.52 436.79,683.69 436.14,685.25 435.82,687.20 435.82,688.77 436.14,690.72 436.79,692.28 437.44,693.45 438.10,694.23M440.70,683.30L444.29,683.30 442.33,686.42 443.31,686.42 443.96,686.81 444.29,687.20 444.61,688.38 444.61,689.16 444.29,690.33 443.64,691.11 442.66,691.50 441.68,691.50 440.70,691.11 440.38,690.72 440.05,689.94M447.55,691.11L447.22,691.50 446.89,691.11 447.22,690.72 447.55,691.11 447.55,691.89 447.22,692.67 446.89,693.06M450.48,683.30L454.06,683.30 452.11,686.42 453.08,686.42 453.74,686.81 454.06,687.20 454.39,688.38 454.39,689.16 454.06,690.33 453.41,691.11 452.43,691.50 451.46,691.50 450.48,691.11 450.15,690.72 449.83,689.94M458.30,683.30L457.32,683.69 456.67,684.86 456.34,686.81 456.34,687.99 456.67,689.94 457.32,691.11 458.30,691.50 458.95,691.50 459.93,691.11 460.58,689.94 460.90,687.99 460.90,686.81 460.58,684.86 459.93,683.69 458.95,683.30 458.30,683.30M462.86,681.74L463.51,682.52 464.16,683.69 464.81,685.25 465.14,687.20 465.14,688.77 464.81,690.72 464.16,692.28 463.51,693.45 462.86,694.23M473.61,683.30L473.61,691.50M473.61,683.30L476.22,691.50M478.83,683.30L476.22,691.50M478.83,683.30L478.83,691.50M481.43,683.30L481.43,691.50M484.04,683.30L484.04,691.50M484.04,683.30L488.60,691.50M488.60,683.30L488.60,691.50"/>
<line x1="160.5" y1="713.6" x2="160.5" y2="774.6"/>
<line x1="188.5" y1="713.6" x2="188.5" y2="774.6"/>
<line x1="185.5" y1="716" x2="185.5" y2="741.8"/>
<line x1="191" y1="716" x2="191" y2="741.8"/>
<polygon class="ah" points="185.5,735.5 177.5,731.1 177.5,739.9"/>
<line x1="185.5" y1="735.5" x2="167.8" y2="735.5"/>
<polygon class="ah" points="191,735.5 199,739.9 199,731.1"/>
<line x1="191" y1="735.5" x2="213" y2="735.5"/>
<path class="tx" d="M219.39,724.00L218.40,724.35 217.73,725.41 217.40,727.17 217.40,728.23 217.73,729.99 218.40,731.05 219.39,731.40 220.06,731.40 221.05,731.05 221.72,729.99 222.05,728.23 222.05,727.17 221.72,725.41 221.05,724.35 220.06,724.00 219.39,724.00M224.71,730.70L224.38,731.05 224.71,731.40 225.04,731.05 224.71,730.70M229.36,724.00L228.36,724.35 227.70,725.41 227.36,727.17 227.36,728.23 227.70,729.99 228.36,731.05 229.36,731.40 230.02,731.40 231.02,731.05 231.68,729.99 232.02,728.23 232.02,727.17 231.68,725.41 231.02,724.35 230.02,724.00 229.36,724.00M234.34,725.76L234.34,725.41 234.67,724.70 235.00,724.35 235.67,724.00 237.00,724.00 237.66,724.35 237.99,724.70 238.33,725.41 238.33,726.11 237.99,726.82 237.33,727.88 234.01,731.40 238.66,731.40M244.97,725.06L244.64,724.35 243.64,724.00 242.98,724.00 241.98,724.35 241.32,725.41 240.98,727.17 240.98,728.93 241.32,730.34 241.98,731.05 242.98,731.40 243.31,731.40 244.31,731.05 244.97,730.34 245.30,729.29 245.30,728.93 244.97,727.88 244.31,727.17 243.31,726.82 242.98,726.82 241.98,727.17 241.32,727.88 240.98,728.93M255.93,722.59L255.27,723.30 254.60,724.35 253.94,725.76 253.61,727.52 253.61,728.93 253.94,730.70 254.60,732.10 255.27,733.16 255.93,733.87M259.92,724.00L258.92,724.35 258.26,725.41 257.92,727.17 257.92,728.23 258.26,729.99 258.92,731.05 259.92,731.40 260.58,731.40 261.58,731.05 262.24,729.99 262.57,728.23 262.57,727.17 262.24,725.41 261.58,724.35 260.58,724.00 259.92,724.00M265.56,731.05L265.23,731.40 264.90,731.05 265.23,730.70 265.56,731.05 265.56,731.75 265.23,732.46 264.90,732.81M272.21,725.06L271.87,724.35 270.88,724.00 270.21,724.00 269.22,724.35 268.55,725.41 268.22,727.17 268.22,728.93 268.55,730.34 269.22,731.05 270.21,731.40 270.55,731.40 271.54,731.05 272.21,730.34 272.54,729.29 272.54,728.93 272.21,727.88 271.54,727.17 270.55,726.82 270.21,726.82 269.22,727.17 268.55,727.88 268.22,728.93M278.85,725.06L278.52,724.35 277.52,724.00 276.86,724.00 275.86,724.35 275.20,725.41 274.86,727.17 274.86,728.93 275.20,730.34 275.86,731.05 276.86,731.40 277.19,731.40 278.19,731.05 278.85,730.34 279.18,729.29 279.18,728.93 278.85,727.88 278.19,727.17 277.19,726.82 276.86,726.82 275.86,727.17 275.20,727.88 274.86,728.93M281.17,722.59L281.84,723.30 282.50,724.35 283.17,725.76 283.50,727.52 283.50,728.93 283.17,730.70 282.50,732.10 281.84,733.16 281.17,733.87"/>
<line x1="216.9" y1="735.5" x2="284.5" y2="735.5"/>
<path class="tx" d="M219.39,739.10L218.40,739.45 217.73,740.51 217.40,742.27 217.40,743.33 217.73,745.09 218.40,746.15 219.39,746.50 220.06,746.50 221.05,746.15 221.72,745.09 222.05,743.33 222.05,742.27 221.72,740.51 221.05,739.45 220.06,739.10 219.39,739.10M224.71,745.80L224.38,746.15 224.71,746.50 225.04,746.15 224.71,745.80M229.36,739.10L228.36,739.45 227.70,740.51 227.36,742.27 227.36,743.33 227.70,745.09 228.36,746.15 229.36,746.50 230.02,746.50 231.02,746.15 231.68,745.09 232.02,743.33 232.02,742.27 231.68,740.51 231.02,739.45 230.02,739.10 229.36,739.10M235.00,740.51L235.67,740.16 236.67,739.10 236.67,746.50M243.97,739.10L240.65,744.03 245.63,744.03M243.97,739.10L243.97,746.50M255.93,737.69L255.27,738.40 254.60,739.45 253.94,740.86 253.61,742.62 253.61,744.03 253.94,745.80 254.60,747.20 255.27,748.26 255.93,748.97M259.92,739.10L258.92,739.45 258.26,740.51 257.92,742.27 257.92,743.33 258.26,745.09 258.92,746.15 259.92,746.50 260.58,746.50 261.58,746.15 262.24,745.09 262.57,743.33 262.57,742.27 262.24,740.51 261.58,739.45 260.58,739.10 259.92,739.10M265.56,746.15L265.23,746.50 264.90,746.15 265.23,745.80 265.56,746.15 265.56,746.85 265.23,747.56 264.90,747.91M268.55,739.10L272.21,739.10 270.21,741.92 271.21,741.92 271.87,742.27 272.21,742.62 272.54,743.68 272.54,744.39 272.21,745.44 271.54,746.15 270.55,746.50 269.55,746.50 268.55,746.15 268.22,745.80 267.89,745.09M278.85,740.16L278.52,739.45 277.52,739.10 276.86,739.10 275.86,739.45 275.20,740.51 274.86,742.27 274.86,744.03 275.20,745.44 275.86,746.15 276.86,746.50 277.19,746.50 278.19,746.15 278.85,745.44 279.18,744.39 279.18,744.03 278.85,742.98 278.19,742.27 277.19,741.92 276.86,741.92 275.86,742.27 275.20,742.98 274.86,744.03M281.17,737.69L281.84,738.40 282.50,739.45 283.17,740.86 283.50,742.62 283.50,744.03 283.17,745.80 282.50,747.20 281.84,748.26 281.17,748.97"/>
<polygon class="ah" points="160.5,767.5 152.5,763.1 152.5,771.9"/>
<line x1="160.5" y1="767.5" x2="142.8" y2="767.5"/>
<polygon class="ah" points="188.5,767.5 196.5,771.9 196.5,763.1"/>
<line x1="188.5" y1="767.5" x2="210" y2="767.5"/>
<rect x="212.5" y="759.5" width="73" height="17" fill="none"/>
<path class="tx" d="M218.97,763.80L217.98,764.16 217.33,765.23 217.00,767.01 217.00,768.09 217.33,769.87 217.98,770.94 218.97,771.30 219.63,771.30 220.61,770.94 221.27,769.87 221.59,768.09 221.59,767.01 221.27,765.23 220.61,764.16 219.63,763.80 218.97,763.80M224.22,770.59L223.89,770.94 224.22,771.30 224.55,770.94 224.22,770.59M227.83,765.23L228.48,764.87 229.47,763.80 229.47,771.30M235.38,763.80L234.39,764.16 233.74,765.23 233.41,767.01 233.41,768.09 233.74,769.87 234.39,770.94 235.38,771.30 236.03,771.30 237.02,770.94 237.67,769.87 238.00,768.09 238.00,767.01 237.67,765.23 237.02,764.16 236.03,763.80 235.38,763.80M241.94,763.80L240.95,764.16 240.30,765.23 239.97,767.01 239.97,768.09 240.30,769.87 240.95,770.94 241.94,771.30 242.59,771.30 243.58,770.94 244.24,769.87 244.56,768.09 244.56,767.01 244.24,765.23 243.58,764.16 242.59,763.80 241.94,763.80M255.06,762.37L254.41,763.09 253.75,764.16 253.10,765.59 252.77,767.37 252.77,768.80 253.10,770.59 253.75,772.01 254.41,773.09 255.06,773.80M257.36,765.59L257.36,765.23 257.69,764.51 258.02,764.16 258.67,763.80 259.99,763.80 260.64,764.16 260.97,764.51 261.30,765.23 261.30,765.94 260.97,766.66 260.31,767.73 257.03,771.30 261.63,771.30M264.58,770.94L264.25,771.30 263.92,770.94 264.25,770.59 264.58,770.94 264.58,771.66 264.25,772.37 263.92,772.73M270.82,763.80L267.53,763.80 267.21,767.01 267.53,766.66 268.52,766.30 269.50,766.30 270.49,766.66 271.14,767.37 271.47,768.44 271.47,769.16 271.14,770.23 270.49,770.94 269.50,771.30 268.52,771.30 267.53,770.94 267.21,770.59 266.88,769.87M276.72,763.80L273.44,768.80 278.36,768.80M276.72,763.80L276.72,771.30M280.00,762.37L280.66,763.09 281.32,764.16 281.97,765.59 282.30,767.37 282.30,768.80 281.97,770.59 281.32,772.01 280.66,773.09 280.00,773.80"/>
<line x1="613.5" y1="563" x2="613.5" y2="621.8"/>
<line x1="713.5" y1="563" x2="713.5" y2="621.8"/>
<polygon class="ah" points="613.5,570.5 621.5,574.9 621.5,566.1"/>
<line x1="613.5" y1="570.5" x2="649.8" y2="570.5"/>
<polygon class="ah" points="713.5,570.5 705.5,566.1 705.5,574.9"/>
<line x1="713.5" y1="570.5" x2="676.9" y2="570.5"/>
<rect x="655.5" y="562.5" width="14" height="17" fill="none"/>
<path class="tx" d="M662.28,566.50L659.80,574.40M662.28,566.50L664.76,574.40M660.73,571.77L663.83,571.77"/>
<rect x="622.5" y="603" width="82" height="51.9" fill="none"/>
<line x1="622.5" y1="623.5" x2="704.5" y2="623.5"/>
<line x1="622.5" y1="634.5" x2="704.5" y2="634.5"/>
<path d="M 622.5 627.5 L 616 627.5 Q 611.6 627.5 611.2 632.5 L 604.4 705.5 Q 604.2 708.2 606.4 708.2 Q 608.4 708.2 608.5 705.5 L 614.6 634.5 Q 614.9 630.5 617.5 630.5 L 622.5 630.5" fill="none"/>
<path d="M 704.5 627.5 L 711 627.5 Q 715.4 627.5 715.8 632.5 L 722.6 705.5 Q 722.8 708.2 720.6 708.2 Q 718.6 708.2 718.5 705.5 L 712.4 634.5 Q 712.1 630.5 709.5 630.5 L 704.5 630.5" fill="none"/>
<line x1="608" y1="667.5" x2="611.8" y2="667.5"/>
<line x1="715.2" y1="667.5" x2="719" y2="667.5"/>
<line x1="603.6" y1="715" x2="596.8" y2="790.5"/>
<line x1="607.6" y1="715" x2="600.8" y2="790.5"/>
<line x1="711.5" y1="634.5" x2="711.5" y2="759.2"/>
<line x1="720.2" y1="715" x2="723.6" y2="758"/>
<polygon class="ah" points="711.5,749.2 704.08,743.88 703.03,752.62"/>
<line x1="711.5" y1="749.2" x2="684" y2="745.9"/>
<polygon class="ah" points="722.1,748.5 730.8,751.28 729.1,742.64"/>
<line x1="722.1" y1="748.5" x2="748.6" y2="743.3"/>
<path class="tx" d="M757.03,738.60L756.01,738.99 755.34,740.14 755.00,742.07 755.00,743.23 755.34,745.16 756.01,746.31 757.03,746.70 757.70,746.70 758.72,746.31 759.39,745.16 759.73,743.23 759.73,742.07 759.39,740.14 758.72,738.99 757.70,738.60 757.03,738.60M762.37,739.18L762.29,739.53 762.06,739.78 761.76,739.87 761.45,739.78 761.23,739.53 761.15,739.18 761.23,738.83 761.45,738.58 761.76,738.48 762.06,738.58 762.29,738.83 762.37,739.18M764.12,743.23L770.21,743.23M773.59,740.14L774.26,739.76 775.28,738.60 775.28,746.70M783.39,738.60L780.01,738.60 779.67,742.07 780.01,741.69 781.02,741.30 782.04,741.30 783.05,741.69 783.73,742.46 784.06,743.61 784.06,744.39 783.73,745.54 783.05,746.31 782.04,746.70 781.02,746.70 780.01,746.31 779.67,745.93 779.33,745.16M786.70,739.18L786.62,739.53 786.40,739.78 786.09,739.87 785.79,739.78 785.56,739.53 785.48,739.18 785.56,738.83 785.79,738.58 786.09,738.48 786.40,738.58 786.62,738.83 786.70,739.18"/>
<polygon class="ah" points="597.5,781.1 589.83,776.14 589.21,784.92"/>
<line x1="597.5" y1="781.1" x2="570.9" y2="779.2"/>
<polygon class="ah" points="601.3,781.6 608.79,786.82 609.72,778.07"/>
<line x1="601.3" y1="781.6" x2="624.8" y2="784.1"/>
<path class="tx" d="M500.97,766.70L499.98,767.08 499.33,768.22 499.00,770.13 499.00,771.27 499.33,773.18 499.98,774.32 500.97,774.70 501.63,774.70 502.61,774.32 503.27,773.18 503.59,771.27 503.59,770.13 503.27,768.22 502.61,767.08 501.63,766.70 500.97,766.70M506.22,773.94L505.89,774.32 506.22,774.70 506.55,774.32 506.22,773.94M510.81,766.70L509.83,767.08 509.17,768.22 508.84,770.13 508.84,771.27 509.17,773.18 509.83,774.32 510.81,774.70 511.47,774.70 512.45,774.32 513.11,773.18 513.44,771.27 513.44,770.13 513.11,768.22 512.45,767.08 511.47,766.70 510.81,766.70M516.39,768.22L517.05,767.84 518.03,766.70 518.03,774.70M525.25,766.70L521.97,772.03 526.89,772.03M525.25,766.70L525.25,774.70M537.06,765.18L536.41,765.94 535.75,767.08 535.10,768.60 534.77,770.51 534.77,772.03 535.10,773.94 535.75,775.46 536.41,776.60 537.06,777.37M541.00,766.70L540.02,767.08 539.36,768.22 539.03,770.13 539.03,771.27 539.36,773.18 540.02,774.32 541.00,774.70 541.66,774.70 542.64,774.32 543.30,773.18 543.63,771.27 543.63,770.13 543.30,768.22 542.64,767.08 541.66,766.70 541.00,766.70M546.58,774.32L546.25,774.70 545.92,774.32 546.25,773.94 546.58,774.32 546.58,775.08 546.25,775.84 545.92,776.22M549.53,766.70L553.14,766.70 551.17,769.75 552.16,769.75 552.82,770.13 553.14,770.51 553.47,771.65 553.47,772.41 553.14,773.56 552.49,774.32 551.50,774.70 550.52,774.70 549.53,774.32 549.21,773.94 548.88,773.18M559.71,767.84L559.38,767.08 558.39,766.70 557.74,766.70 556.75,767.08 556.10,768.22 555.77,770.13 555.77,772.03 556.10,773.56 556.75,774.32 557.74,774.70 558.07,774.70 559.05,774.32 559.71,773.56 560.03,772.41 560.03,772.03 559.71,770.89 559.05,770.13 558.07,769.75 557.74,769.75 556.75,770.13 556.10,770.89 555.77,772.03M562.00,765.18L562.66,765.94 563.32,767.08 563.97,768.60 564.30,770.51 564.30,772.03 563.97,773.94 563.32,775.46 562.66,776.60 562.00,777.37"/>
<line x1="498.5" y1="779.5" x2="565" y2="779.5"/>
<path class="tx" d="M500.97,782.10L499.98,782.50 499.33,783.68 499.00,785.66 499.00,786.84 499.33,788.82 499.98,790.00 500.97,790.40 501.63,790.40 502.61,790.00 503.27,788.82 503.59,786.84 503.59,785.66 503.27,783.68 502.61,782.50 501.63,782.10 500.97,782.10M506.22,789.61L505.89,790.00 506.22,790.40 506.55,790.00 506.22,789.61M510.81,782.10L509.83,782.50 509.17,783.68 508.84,785.66 508.84,786.84 509.17,788.82 509.83,790.00 510.81,790.40 511.47,790.40 512.45,790.00 513.11,788.82 513.44,786.84 513.44,785.66 513.11,783.68 512.45,782.50 511.47,782.10 510.81,782.10M517.38,782.10L516.39,782.50 515.74,783.68 515.41,785.66 515.41,786.84 515.74,788.82 516.39,790.00 517.38,790.40 518.03,790.40 519.02,790.00 519.67,788.82 520.00,786.84 520.00,785.66 519.67,783.68 519.02,782.50 518.03,782.10 517.38,782.10M523.61,782.10L522.63,782.50 522.30,783.29 522.30,784.08 522.63,784.87 523.28,785.26 524.59,785.66 525.58,786.05 526.24,786.84 526.56,787.63 526.56,788.82 526.24,789.61 525.91,790.00 524.92,790.40 523.61,790.40 522.63,790.00 522.30,789.61 521.97,788.82 521.97,787.63 522.30,786.84 522.95,786.05 523.94,785.66 525.25,785.26 525.91,784.87 526.24,784.08 526.24,783.29 525.91,782.50 524.92,782.10 523.61,782.10M537.06,780.52L536.41,781.31 535.75,782.50 535.10,784.08 534.77,786.05 534.77,787.63 535.10,789.61 535.75,791.19 536.41,792.38 537.06,793.17M541.00,782.10L540.02,782.50 539.36,783.68 539.03,785.66 539.03,786.84 539.36,788.82 540.02,790.00 541.00,790.40 541.66,790.40 542.64,790.00 543.30,788.82 543.63,786.84 543.63,785.66 543.30,783.68 542.64,782.50 541.66,782.10 541.00,782.10M546.58,790.00L546.25,790.40 545.92,790.00 546.25,789.61 546.58,790.00 546.58,790.80 546.25,791.59 545.92,791.98M549.21,784.08L549.21,783.68 549.53,782.89 549.86,782.50 550.52,782.10 551.83,782.10 552.49,782.50 552.82,782.89 553.14,783.68 553.14,784.47 552.82,785.26 552.16,786.45 548.88,790.40 553.47,790.40M557.41,782.10L556.42,782.50 555.77,783.68 555.44,785.66 555.44,786.84 555.77,788.82 556.42,790.00 557.41,790.40 558.07,790.40 559.05,790.00 559.71,788.82 560.03,786.84 560.03,785.66 559.71,783.68 559.05,782.50 558.07,782.10 557.41,782.10M562.00,780.52L562.66,781.31 563.32,782.50 563.97,784.08 564.30,786.05 564.30,787.63 563.97,789.61 563.32,791.19 562.66,792.38 562.00,793.17"/>
<path class="tx" d="M731.71,893.90L728.40,899.57 733.37,899.57M731.71,893.90L731.71,902.40M737.01,893.90L736.02,894.30 735.36,895.52 735.03,897.54 735.03,898.76 735.36,900.78 736.02,902.00 737.01,902.40 737.68,902.40 738.67,902.00 739.33,900.78 739.66,898.76 739.66,897.54 739.33,895.52 738.67,894.30 737.68,893.90 737.01,893.90M744.96,893.90L741.65,899.57 746.62,899.57M744.96,893.90L744.96,902.40M750.27,893.90L749.27,894.30 748.61,895.52 748.28,897.54 748.28,898.76 748.61,900.78 749.27,902.00 750.27,902.40 750.93,902.40 751.92,902.00 752.58,900.78 752.92,898.76 752.92,897.54 752.58,895.52 751.92,894.30 750.93,893.90 750.27,893.90M756.89,893.90L755.90,894.30 755.23,895.52 754.90,897.54 754.90,898.76 755.23,900.78 755.90,902.00 756.89,902.40 757.55,902.40 758.55,902.00 759.21,900.78 759.54,898.76 759.54,897.54 759.21,895.52 758.55,894.30 757.55,893.90 756.89,893.90M763.19,893.90L762.19,894.30 761.86,895.11 761.86,895.92 762.19,896.73 762.85,897.14 764.18,897.54 765.17,897.95 765.84,898.76 766.17,899.57 766.17,900.78 765.84,901.59 765.50,902.00 764.51,902.40 763.19,902.40 762.19,902.00 761.86,901.59 761.53,900.78 761.53,899.57 761.86,898.76 762.52,897.95 763.52,897.54 764.84,897.14 765.50,896.73 765.84,895.92 765.84,895.11 765.50,894.30 764.51,893.90 763.19,893.90M768.82,893.90L772.46,893.90 770.47,897.14 771.47,897.14 772.13,897.54 772.46,897.95 772.79,899.16 772.79,899.97 772.46,901.19 771.80,902.00 770.81,902.40 769.81,902.40 768.82,902.00 768.49,901.59 768.16,900.78M780.41,892.28L774.45,905.23M782.40,893.90L782.40,902.40M782.40,893.90L786.71,893.90M782.40,897.95L785.05,897.95M795.98,893.90L794.99,894.30 794.33,895.52 794.00,897.54 794.00,898.76 794.33,900.78 794.99,902.00 795.98,902.40 796.65,902.40 797.64,902.00 798.30,900.78 798.63,898.76 798.63,897.54 798.30,895.52 797.64,894.30 796.65,893.90 795.98,893.90M801.28,893.90L804.93,893.90 802.94,897.14 803.93,897.14 804.60,897.54 804.93,897.95 805.26,899.16 805.26,899.97 804.93,901.19 804.27,902.00 803.27,902.40 802.28,902.40 801.28,902.00 800.95,901.59 800.62,900.78M812.88,892.28L806.92,905.23M816.52,893.90L815.53,894.30 814.87,895.52 814.54,897.54 814.54,898.76 814.87,900.78 815.53,902.00 816.52,902.40 817.19,902.40 818.18,902.00 818.84,900.78 819.17,898.76 819.17,897.54 818.84,895.52 818.18,894.30 817.19,893.90 816.52,893.90M821.82,893.90L825.47,893.90 823.48,897.14 824.47,897.14 825.14,897.54 825.47,897.95 825.80,899.16 825.80,899.97 825.47,901.19 824.81,902.00 823.81,902.40 822.82,902.40 821.82,902.00 821.49,901.59 821.16,900.78"/>
<path class="tx" d="M85.10,921.20L85.10,929.50M85.10,921.20L89.87,929.50M89.87,921.20L89.87,929.50M94.30,921.20L93.61,921.60 92.93,922.39 92.59,923.18 92.25,924.36 92.25,926.34 92.59,927.52 92.93,928.31 93.61,929.10 94.30,929.50 95.66,929.50 96.34,929.10 97.02,928.31 97.36,927.52 97.70,926.34 97.70,924.36 97.36,923.18 97.02,922.39 96.34,921.60 95.66,921.20 94.30,921.20M101.45,921.20L101.45,929.50M99.06,921.20L103.83,921.20M105.54,921.20L105.54,929.50M105.54,921.20L109.96,921.20M105.54,925.15L108.26,925.15M105.54,929.50L109.96,929.50M116.43,922.39L115.75,921.60 114.73,921.20 113.37,921.20 112.35,921.60 111.67,922.39 111.67,923.18 112.01,923.97 112.35,924.36 113.03,924.76 115.07,925.55 115.75,925.94 116.09,926.34 116.43,927.13 116.43,928.31 115.75,929.10 114.73,929.50 113.37,929.50 112.35,929.10 111.67,928.31M119.16,923.97L118.82,924.36 119.16,924.76 119.50,924.36 119.16,923.97M119.16,928.71L118.82,929.10 119.16,929.50 119.50,929.10 119.16,928.71"/>
<path class="tx" d="M146.25,921.20L143.60,929.50M146.25,921.20L148.90,929.50M144.59,926.73L147.90,926.73M150.88,928.71L150.55,929.10 150.88,929.50 151.21,929.10 150.88,928.71"/>
<path class="tx" d="M169.45,921.20L166.80,929.50M169.45,921.20L172.10,929.50M167.79,926.73L171.10,926.73M173.75,921.20L173.75,929.50M176.40,921.20L176.40,929.50"/>
<path class="tx" d="M184.91,921.20L184.91,929.50M187.23,921.20L187.56,921.60 187.89,921.20 187.56,920.80 187.23,921.20M187.56,923.97L187.56,929.50M190.21,923.97L190.21,929.50M190.21,925.55L191.20,924.36 191.86,923.97 192.85,923.97 193.52,924.36 193.85,925.55 193.85,929.50M196.16,926.34L200.14,926.34 200.14,925.55 199.80,924.76 199.47,924.36 198.81,923.97 197.82,923.97 197.16,924.36 196.49,925.15 196.16,926.34 196.16,927.13 196.49,928.31 197.16,929.10 197.82,929.50 198.81,929.50 199.47,929.10 200.14,928.31M206.09,923.97L206.09,929.50M206.09,925.15L205.43,924.36 204.77,923.97 203.78,923.97 203.11,924.36 202.45,925.15 202.12,926.34 202.12,927.13 202.45,928.31 203.11,929.10 203.78,929.50 204.77,929.50 205.43,929.10 206.09,928.31M208.74,923.97L208.74,929.50M208.74,926.34L209.07,925.15 209.73,924.36 210.40,923.97 211.39,923.97"/>
<path class="tx" d="M223.07,921.20L223.07,929.50M223.07,925.15L222.41,924.36 221.74,923.97 220.75,923.97 220.09,924.36 219.43,925.15 219.10,926.34 219.10,927.13 219.43,928.31 220.09,929.10 220.75,929.50 221.74,929.50 222.41,929.10 223.07,928.31M225.39,921.20L225.72,921.60 226.05,921.20 225.72,920.80 225.39,921.20M225.72,923.97L225.72,929.50M228.36,923.97L228.36,929.50M228.36,925.55L229.36,924.36 230.02,923.97 231.01,923.97 231.67,924.36 232.00,925.55 232.00,929.50M232.00,925.55L233.00,924.36 233.66,923.97 234.65,923.97 235.31,924.36 235.65,925.55 235.65,929.50M237.96,926.34L241.94,926.34 241.94,925.55 241.60,924.76 241.27,924.36 240.61,923.97 239.62,923.97 238.96,924.36 238.29,925.15 237.96,926.34 237.96,927.13 238.29,928.31 238.96,929.10 239.62,929.50 240.61,929.50 241.27,929.10 241.94,928.31M244.25,923.97L244.25,929.50M244.25,925.55L245.25,924.36 245.91,923.97 246.90,923.97 247.56,924.36 247.89,925.55 247.89,929.50M253.85,925.15L253.52,924.36 252.53,923.97 251.53,923.97 250.54,924.36 250.21,925.15 250.54,925.94 251.20,926.34 252.86,926.73 253.52,927.13 253.85,927.92 253.85,928.31 253.52,929.10 252.53,929.50 251.53,929.50 250.54,929.10 250.21,928.31M255.84,921.20L256.17,921.60 256.50,921.20 256.17,920.80 255.84,921.20M256.17,923.97L256.17,929.50M260.14,923.97L259.48,924.36 258.82,925.15 258.49,926.34 258.49,927.13 258.82,928.31 259.48,929.10 260.14,929.50 261.13,929.50 261.80,929.10 262.46,928.31 262.79,927.13 262.79,926.34 262.46,925.15 261.80,924.36 261.13,923.97 260.14,923.97M265.11,923.97L265.11,929.50M265.11,925.55L266.10,924.36 266.76,923.97 267.75,923.97 268.42,924.36 268.75,925.55 268.75,929.50M274.70,925.15L274.37,924.36 273.38,923.97 272.39,923.97 271.39,924.36 271.06,925.15 271.39,925.94 272.06,926.34 273.71,926.73 274.37,927.13 274.70,927.92 274.70,928.31 274.37,929.10 273.38,929.50 272.39,929.50 271.39,929.10 271.06,928.31"/>
<path class="tx" d="M286.89,923.97L286.89,929.50M286.89,925.15L286.23,924.36 285.57,923.97 284.57,923.97 283.91,924.36 283.25,925.15 282.92,926.34 282.92,927.13 283.25,928.31 283.91,929.10 284.57,929.50 285.57,929.50 286.23,929.10 286.89,928.31M289.54,923.97L289.54,929.50M289.54,926.34L289.87,925.15 290.53,924.36 291.19,923.97 292.19,923.97M293.51,926.34L297.48,926.34 297.48,925.55 297.15,924.76 296.82,924.36 296.16,923.97 295.17,923.97 294.50,924.36 293.84,925.15 293.51,926.34 293.51,927.13 293.84,928.31 294.50,929.10 295.17,929.50 296.16,929.50 296.82,929.10 297.48,928.31"/>
<path class="tx" d="M305.39,921.20L305.72,921.60 306.05,921.20 305.72,920.80 305.39,921.20M305.72,923.97L305.72,929.50M308.37,923.97L308.37,929.50M308.37,925.55L309.36,924.36 310.02,923.97 311.02,923.97 311.68,924.36 312.01,925.55 312.01,929.50"/>
<path class="tx" d="M319.96,921.20L320.29,921.60 320.62,921.20 320.29,920.80 319.96,921.20M320.29,923.97L320.29,929.50M322.94,923.97L322.94,929.50M322.94,925.55L323.93,924.36 324.59,923.97 325.59,923.97 326.25,924.36 326.58,925.55 326.58,929.50M332.87,925.15L332.21,924.36 331.54,923.97 330.55,923.97 329.89,924.36 329.23,925.15 328.90,926.34 328.90,927.13 329.23,928.31 329.89,929.10 330.55,929.50 331.54,929.50 332.21,929.10 332.87,928.31M335.18,921.20L335.18,929.50M335.18,925.55L336.18,924.36 336.84,923.97 337.83,923.97 338.49,924.36 338.83,925.55 338.83,929.50M341.14,926.34L345.11,926.34 345.11,925.55 344.78,924.76 344.45,924.36 343.79,923.97 342.80,923.97 342.14,924.36 341.47,925.15 341.14,926.34 341.14,927.13 341.47,928.31 342.14,929.10 342.80,929.50 343.79,929.50 344.45,929.10 345.11,928.31M350.74,925.15L350.41,924.36 349.42,923.97 348.42,923.97 347.43,924.36 347.10,925.15 347.43,925.94 348.09,926.34 349.75,926.73 350.41,927.13 350.74,927.92 350.74,928.31 350.41,929.10 349.42,929.50 348.42,929.50 347.43,929.10 347.10,928.31"/>
<path class="tx" d="M361.37,919.62L360.70,920.41 360.04,921.60 359.38,923.18 359.05,925.15 359.05,926.73 359.38,928.71 360.04,930.29 360.70,931.48 361.37,932.27M363.68,923.97L363.68,929.50M363.68,925.55L364.68,924.36 365.34,923.97 366.33,923.97 366.99,924.36 367.32,925.55 367.32,929.50M367.32,925.55L368.32,924.36 368.98,923.97 369.97,923.97 370.63,924.36 370.97,925.55 370.97,929.50M373.28,921.20L373.61,921.60 373.94,921.20 373.61,920.80 373.28,921.20M373.61,923.97L373.61,929.50M376.26,921.20L376.26,929.50M378.91,921.20L378.91,929.50M381.23,921.20L381.56,921.60 381.89,921.20 381.56,920.80 381.23,921.20M381.56,923.97L381.56,929.50M384.21,923.97L384.21,929.50M384.21,925.55L385.20,924.36 385.86,923.97 386.85,923.97 387.52,924.36 387.85,925.55 387.85,929.50M387.85,925.55L388.84,924.36 389.50,923.97 390.49,923.97 391.16,924.36 391.49,925.55 391.49,929.50M393.80,926.34L397.78,926.34 397.78,925.55 397.45,924.76 397.11,924.36 396.45,923.97 395.46,923.97 394.80,924.36 394.14,925.15 393.80,926.34 393.80,927.13 394.14,928.31 394.80,929.10 395.46,929.50 396.45,929.50 397.11,929.10 397.78,928.31M400.42,921.20L400.42,927.92 400.76,929.10 401.42,929.50 402.08,929.50M399.43,923.97L401.75,923.97M403.73,926.34L407.71,926.34 407.71,925.55 407.38,924.76 407.04,924.36 406.38,923.97 405.39,923.97 404.73,924.36 404.07,925.15 403.73,926.34 403.73,927.13 404.07,928.31 404.73,929.10 405.39,929.50 406.38,929.50 407.04,929.10 407.71,928.31M410.02,923.97L410.02,929.50M410.02,926.34L410.35,925.15 411.02,924.36 411.68,923.97 412.67,923.97M417.64,925.15L417.31,924.36 416.31,923.97 415.32,923.97 414.33,924.36 414.00,925.15 414.33,925.94 414.99,926.34 416.64,926.73 417.31,927.13 417.64,927.92 417.64,928.31 417.31,929.10 416.31,929.50 415.32,929.50 414.33,929.10 414.00,928.31M419.62,919.62L420.28,920.41 420.95,921.60 421.61,923.18 421.94,925.15 421.94,926.73 421.61,928.71 420.95,930.29 420.28,931.48 419.62,932.27M424.92,928.71L424.59,929.10 424.92,929.50 425.25,929.10 424.92,928.71"/>
<path class="tx" d="M143.60,935.90L143.60,944.20M143.60,935.90L146.58,935.90 147.57,936.30 147.90,936.69 148.23,937.48 148.23,938.27 147.90,939.06 147.57,939.46 146.58,939.85M143.60,939.85L146.58,939.85 147.57,940.25 147.90,940.64 148.23,941.43 148.23,942.62 147.90,943.41 147.57,943.80 146.58,944.20 143.60,944.20M150.88,943.41L150.55,943.80 150.88,944.20 151.21,943.80 150.88,943.41"/>
<path class="tx" d="M168.85,935.90L168.85,944.20M166.53,935.90L171.17,935.90M172.82,935.90L172.82,944.20M172.82,940.25L173.81,939.06 174.48,938.67 175.47,938.67 176.13,939.06 176.46,940.25 176.46,944.20M178.78,935.90L179.11,936.30 179.44,935.90 179.11,935.50 178.78,935.90M179.11,938.67L179.11,944.20M185.07,939.85L184.74,939.06 183.74,938.67 182.75,938.67 181.76,939.06 181.43,939.85 181.76,940.64 182.42,941.04 184.08,941.43 184.74,941.83 185.07,942.62 185.07,943.01 184.74,943.80 183.74,944.20 182.75,944.20 181.76,943.80 181.43,943.01"/>
<path class="tx" d="M196.54,935.90L196.54,944.20M196.54,939.85L195.87,939.06 195.21,938.67 194.22,938.67 193.56,939.06 192.90,939.85 192.56,941.04 192.56,941.83 192.90,943.01 193.56,943.80 194.22,944.20 195.21,944.20 195.87,943.80 196.54,943.01M199.18,938.67L199.18,944.20M199.18,941.04L199.51,939.85 200.18,939.06 200.84,938.67 201.83,938.67M207.13,938.67L207.13,944.20M207.13,939.85L206.47,939.06 205.80,938.67 204.81,938.67 204.15,939.06 203.49,939.85 203.16,941.04 203.16,941.83 203.49,943.01 204.15,943.80 204.81,944.20 205.80,944.20 206.47,943.80 207.13,943.01M209.44,938.67L210.77,944.20M212.09,938.67L210.77,944.20M212.09,938.67L213.42,944.20M214.74,938.67L213.42,944.20M216.73,935.90L217.06,936.30 217.39,935.90 217.06,935.50 216.73,935.90M217.06,938.67L217.06,944.20M219.71,938.67L219.71,944.20M219.71,940.25L220.70,939.06 221.36,938.67 222.35,938.67 223.02,939.06 223.35,940.25 223.35,944.20M229.64,938.67L229.64,944.99 229.31,946.18 228.97,946.57 228.31,946.97 227.32,946.97 226.66,946.57M229.64,939.85L228.97,939.06 228.31,938.67 227.32,938.67 226.66,939.06 226.00,939.85 225.66,941.04 225.66,941.83 226.00,943.01 226.66,943.80 227.32,944.20 228.31,944.20 228.97,943.80 229.64,943.01"/>
<path class="tx" d="M238.06,935.90L238.39,936.30 238.72,935.90 238.39,935.50 238.06,935.90M238.39,938.67L238.39,944.20M244.34,939.85L244.01,939.06 243.02,938.67 242.03,938.67 241.03,939.06 240.70,939.85 241.03,940.64 241.70,941.04 243.35,941.43 244.01,941.83 244.34,942.62 244.34,943.01 244.01,943.80 243.02,944.20 242.03,944.20 241.03,943.80 240.70,943.01"/>
<path class="tx" d="M255.82,939.85L255.49,939.06 254.49,938.67 253.50,938.67 252.51,939.06 252.18,939.85 252.51,940.64 253.17,941.04 254.82,941.43 255.49,941.83 255.82,942.62 255.82,943.01 255.49,943.80 254.49,944.20 253.50,944.20 252.51,943.80 252.18,943.01M258.13,938.67L258.13,942.62 258.47,943.80 259.13,944.20 260.12,944.20 260.78,943.80 261.78,942.62M261.78,938.67L261.78,944.20M264.42,935.90L264.42,944.20M264.42,939.85L265.09,939.06 265.75,938.67 266.74,938.67 267.40,939.06 268.06,939.85 268.40,941.04 268.40,941.83 268.06,943.01 267.40,943.80 266.74,944.20 265.75,944.20 265.09,943.80 264.42,943.01M271.04,935.90L271.37,936.30 271.71,935.90 271.37,935.50 271.04,935.90M271.37,938.67L271.37,945.39 271.04,946.57 270.38,946.97 269.72,946.97M273.69,941.04L277.66,941.04 277.66,940.25 277.33,939.46 277.00,939.06 276.34,938.67 275.35,938.67 274.68,939.06 274.02,939.85 273.69,941.04 273.69,941.83 274.02,943.01 274.68,943.80 275.35,944.20 276.34,944.20 277.00,943.80 277.66,943.01M283.62,939.85L282.96,939.06 282.30,938.67 281.30,938.67 280.64,939.06 279.98,939.85 279.65,941.04 279.65,941.83 279.98,943.01 280.64,943.80 281.30,944.20 282.30,944.20 282.96,943.80 283.62,943.01M286.27,935.90L286.27,942.62 286.60,943.80 287.26,944.20 287.92,944.20M285.28,938.67L287.59,938.67"/>
<path class="tx" d="M298.19,935.90L298.19,942.62 298.52,943.80 299.18,944.20 299.85,944.20M297.20,938.67L299.51,938.67M303.16,938.67L302.49,939.06 301.83,939.85 301.50,941.04 301.50,941.83 301.83,943.01 302.49,943.80 303.16,944.20 304.15,944.20 304.81,943.80 305.47,943.01 305.80,941.83 305.80,941.04 305.47,939.85 304.81,939.06 304.15,938.67 303.16,938.67"/>
<path class="tx" d="M317.78,939.85L317.12,939.06 316.46,938.67 315.46,938.67 314.80,939.06 314.14,939.85 313.81,941.04 313.81,941.83 314.14,943.01 314.80,943.80 315.46,944.20 316.46,944.20 317.12,943.80 317.78,943.01M320.10,935.90L320.10,944.20M320.10,940.25L321.09,939.06 321.75,938.67 322.74,938.67 323.41,939.06 323.74,940.25 323.74,944.20M330.03,938.67L330.03,944.20M330.03,939.85L329.36,939.06 328.70,938.67 327.71,938.67 327.05,939.06 326.39,939.85 326.05,941.04 326.05,941.83 326.39,943.01 327.05,943.80 327.71,944.20 328.70,944.20 329.36,943.80 330.03,943.01M332.67,938.67L332.67,944.20M332.67,940.25L333.67,939.06 334.33,938.67 335.32,938.67 335.98,939.06 336.31,940.25 336.31,944.20M342.60,938.67L342.60,944.99 342.27,946.18 341.94,946.57 341.28,946.97 340.29,946.97 339.62,946.57M342.60,939.85L341.94,939.06 341.28,938.67 340.29,938.67 339.62,939.06 338.96,939.85 338.63,941.04 338.63,941.83 338.96,943.01 339.62,943.80 340.29,944.20 341.28,944.20 341.94,943.80 342.60,943.01M344.92,941.04L348.89,941.04 348.89,940.25 348.56,939.46 348.23,939.06 347.57,938.67 346.58,938.67 345.91,939.06 345.25,939.85 344.92,941.04 344.92,941.83 345.25,943.01 345.91,943.80 346.58,944.20 347.57,944.20 348.23,943.80 348.89,943.01"/>
<path class="tx" d="M357.21,938.67L358.53,944.20M359.86,938.67L358.53,944.20M359.86,938.67L361.18,944.20M362.50,938.67L361.18,944.20M364.49,935.90L364.82,936.30 365.15,935.90 364.82,935.50 364.49,935.90M364.82,938.67L364.82,944.20M367.80,935.90L367.80,942.62 368.13,943.80 368.79,944.20 369.45,944.20M366.81,938.67L369.12,938.67M371.44,935.90L371.44,944.20M371.44,940.25L372.43,939.06 373.10,938.67 374.09,938.67 374.75,939.06 375.08,940.25 375.08,944.20M379.05,938.67L378.39,939.06 377.73,939.85 377.40,941.04 377.40,941.83 377.73,943.01 378.39,943.80 379.05,944.20 380.05,944.20 380.71,943.80 381.37,943.01 381.70,941.83 381.70,941.04 381.37,939.85 380.71,939.06 380.05,938.67 379.05,938.67M384.02,938.67L384.02,942.62 384.35,943.80 385.01,944.20 386.00,944.20 386.67,943.80 387.66,942.62M387.66,938.67L387.66,944.20M390.64,935.90L390.64,942.62 390.97,943.80 391.63,944.20 392.29,944.20M389.64,938.67L391.96,938.67"/>
<path class="tx" d="M400.71,938.67L400.71,944.20M400.71,940.25L401.71,939.06 402.37,938.67 403.36,938.67 404.02,939.06 404.35,940.25 404.35,944.20M408.33,938.67L407.66,939.06 407.00,939.85 406.67,941.04 406.67,941.83 407.00,943.01 407.66,943.80 408.33,944.20 409.32,944.20 409.98,943.80 410.64,943.01 410.97,941.83 410.97,941.04 410.64,939.85 409.98,939.06 409.32,938.67 408.33,938.67M413.62,935.90L413.62,942.62 413.95,943.80 414.61,944.20 415.28,944.20M412.63,938.67L414.95,938.67M416.93,935.90L417.26,936.30 417.59,935.90 417.26,935.50 416.93,935.90M417.26,938.67L417.26,944.20M423.55,939.85L422.89,939.06 422.23,938.67 421.23,938.67 420.57,939.06 419.91,939.85 419.58,941.04 419.58,941.83 419.91,943.01 420.57,943.80 421.23,944.20 422.23,944.20 422.89,943.80 423.55,943.01M425.54,941.04L429.51,941.04 429.51,940.25 429.18,939.46 428.85,939.06 428.19,938.67 427.19,938.67 426.53,939.06 425.87,939.85 425.54,941.04 425.54,941.83 425.87,943.01 426.53,943.80 427.19,944.20 428.19,944.20 428.85,943.80 429.51,943.01M432.16,943.41L431.83,943.80 432.16,944.20 432.49,943.80 432.16,943.41"/>
<path class="tx" d="M148.56,953.58L148.23,952.79 147.57,952.00 146.91,951.60 145.59,951.60 144.92,952.00 144.26,952.79 143.93,953.58 143.60,954.76 143.60,956.74 143.93,957.92 144.26,958.71 144.92,959.50 145.59,959.90 146.91,959.90 147.57,959.50 148.23,958.71 148.56,957.92M151.21,959.11L150.88,959.50 151.21,959.90 151.54,959.50 151.21,959.11"/>
<path class="tx" d="M168.85,951.60L168.85,959.90M166.53,951.60L171.17,951.60M172.82,951.60L172.82,959.90M172.82,955.95L173.81,954.76 174.48,954.37 175.47,954.37 176.13,954.76 176.46,955.95 176.46,959.90M178.78,951.60L179.11,952.00 179.44,951.60 179.11,951.20 178.78,951.60M179.11,954.37L179.11,959.90M185.07,955.55L184.74,954.76 183.74,954.37 182.75,954.37 181.76,954.76 181.43,955.55 181.76,956.34 182.42,956.74 184.08,957.13 184.74,957.53 185.07,958.32 185.07,958.71 184.74,959.50 183.74,959.90 182.75,959.90 181.76,959.50 181.43,958.71"/>
<path class="tx" d="M192.81,954.37L192.81,962.67M192.81,955.55L193.47,954.76 194.13,954.37 195.13,954.37 195.79,954.76 196.45,955.55 196.78,956.74 196.78,957.53 196.45,958.71 195.79,959.50 195.13,959.90 194.13,959.90 193.47,959.50 192.81,958.71M202.74,954.37L202.74,959.90M202.74,955.55L202.08,954.76 201.41,954.37 200.42,954.37 199.76,954.76 199.10,955.55 198.77,956.74 198.77,957.53 199.10,958.71 199.76,959.50 200.42,959.90 201.41,959.90 202.08,959.50 202.74,958.71M209.03,955.55L208.37,954.76 207.70,954.37 206.71,954.37 206.05,954.76 205.39,955.55 205.06,956.74 205.06,957.53 205.39,958.71 206.05,959.50 206.71,959.90 207.70,959.90 208.37,959.50 209.03,958.71M211.34,951.60L211.34,959.90M214.65,954.37L211.34,958.32M212.67,956.74L214.99,959.90M220.61,954.37L220.61,959.90M220.61,955.55L219.95,954.76 219.29,954.37 218.30,954.37 217.63,954.76 216.97,955.55 216.64,956.74 216.64,957.53 216.97,958.71 217.63,959.50 218.30,959.90 219.29,959.90 219.95,959.50 220.61,958.71M226.90,954.37L226.90,960.69 226.57,961.88 226.24,962.27 225.58,962.67 224.58,962.67 223.92,962.27M226.90,955.55L226.24,954.76 225.58,954.37 224.58,954.37 223.92,954.76 223.26,955.55 222.93,956.74 222.93,957.53 223.26,958.71 223.92,959.50 224.58,959.90 225.58,959.90 226.24,959.50 226.90,958.71M229.22,956.74L233.19,956.74 233.19,955.95 232.86,955.16 232.53,954.76 231.87,954.37 230.87,954.37 230.21,954.76 229.55,955.55 229.22,956.74 229.22,957.53 229.55,958.71 230.21,959.50 230.87,959.90 231.87,959.90 232.53,959.50 233.19,958.71"/>
<path class="tx" d="M241.36,951.60L241.69,952.00 242.02,951.60 241.69,951.20 241.36,951.60M241.69,954.37L241.69,959.90M247.64,955.55L247.31,954.76 246.32,954.37 245.33,954.37 244.33,954.76 244.00,955.55 244.33,956.34 245.00,956.74 246.65,957.13 247.31,957.53 247.64,958.32 247.64,958.71 247.31,959.50 246.32,959.90 245.33,959.90 244.33,959.50 244.00,958.71"/>
<path class="tx" d="M256.49,951.60L256.49,959.90M256.49,955.95L257.49,954.76 258.15,954.37 259.14,954.37 259.80,954.76 260.14,955.95 260.14,959.90M262.45,956.74L266.42,956.74 266.42,955.95 266.09,955.16 265.76,954.76 265.10,954.37 264.11,954.37 263.45,954.76 262.78,955.55 262.45,956.74 262.45,957.53 262.78,958.71 263.45,959.50 264.11,959.90 265.10,959.90 265.76,959.50 266.42,958.71M268.74,954.37L268.74,959.90M268.74,956.74L269.07,955.55 269.73,954.76 270.40,954.37 271.39,954.37M273.04,954.37L273.04,959.90M273.04,955.95L274.04,954.76 274.70,954.37 275.69,954.37 276.35,954.76 276.69,955.95 276.69,959.90M276.69,955.95L277.68,954.76 278.34,954.37 279.33,954.37 280.00,954.76 280.33,955.95 280.33,959.90M282.64,956.74L286.62,956.74 286.62,955.95 286.28,955.16 285.95,954.76 285.29,954.37 284.30,954.37 283.64,954.76 282.97,955.55 282.64,956.74 282.64,957.53 282.97,958.71 283.64,959.50 284.30,959.90 285.29,959.90 285.95,959.50 286.62,958.71M289.26,951.60L289.26,958.32 289.59,959.50 290.26,959.90 290.92,959.90M288.27,954.37L290.59,954.37M292.57,951.60L292.90,952.00 293.24,951.60 292.90,951.20 292.57,951.60M292.90,954.37L292.90,959.90M299.19,955.55L298.53,954.76 297.87,954.37 296.88,954.37 296.21,954.76 295.55,955.55 295.22,956.74 295.22,957.53 295.55,958.71 296.21,959.50 296.88,959.90 297.87,959.90 298.53,959.50 299.19,958.71M305.15,954.37L305.15,959.90M305.15,955.55L304.49,954.76 303.83,954.37 302.83,954.37 302.17,954.76 301.51,955.55 301.18,956.74 301.18,957.53 301.51,958.71 302.17,959.50 302.83,959.90 303.83,959.90 304.49,959.50 305.15,958.71M307.80,951.60L307.80,959.90M310.45,951.60L310.45,959.90M312.43,954.37L314.42,959.90M316.41,954.37L314.42,959.90 313.76,961.48 313.10,962.27 312.43,962.67 312.10,962.67"/>
<path class="tx" d="M328.02,955.55L327.68,954.76 326.69,954.37 325.70,954.37 324.71,954.76 324.37,955.55 324.71,956.34 325.37,956.74 327.02,957.13 327.68,957.53 328.02,958.32 328.02,958.71 327.68,959.50 326.69,959.90 325.70,959.90 324.71,959.50 324.37,958.71M330.00,956.74L333.97,956.74 333.97,955.95 333.64,955.16 333.31,954.76 332.65,954.37 331.66,954.37 330.99,954.76 330.33,955.55 330.00,956.74 330.00,957.53 330.33,958.71 330.99,959.50 331.66,959.90 332.65,959.90 333.31,959.50 333.97,958.71M339.93,954.37L339.93,959.90M339.93,955.55L339.27,954.76 338.61,954.37 337.61,954.37 336.95,954.76 336.29,955.55 335.96,956.74 335.96,957.53 336.29,958.71 336.95,959.50 337.61,959.90 338.61,959.90 339.27,959.50 339.93,958.71M342.58,951.60L342.58,959.90M344.90,956.74L348.87,956.74 348.87,955.95 348.54,955.16 348.21,954.76 347.54,954.37 346.55,954.37 345.89,954.76 345.23,955.55 344.90,956.74 344.90,957.53 345.23,958.71 345.89,959.50 346.55,959.90 347.54,959.90 348.21,959.50 348.87,958.71M354.83,951.60L354.83,959.90M354.83,955.55L354.16,954.76 353.50,954.37 352.51,954.37 351.85,954.76 351.19,955.55 350.85,956.74 350.85,957.53 351.19,958.71 351.85,959.50 352.51,959.90 353.50,959.90 354.16,959.50 354.83,958.71"/>
<path class="tx" d="M363.61,954.37L364.94,959.90M366.26,954.37L364.94,959.90M366.26,954.37L367.58,959.90M368.91,954.37L367.58,959.90M370.89,951.60L371.23,952.00 371.56,951.60 371.23,951.20 370.89,951.60M371.23,954.37L371.23,959.90M374.20,951.60L374.20,958.32 374.54,959.50 375.20,959.90 375.86,959.90M373.21,954.37L375.53,954.37M377.85,951.60L377.85,959.90M377.85,955.95L378.84,954.76 379.50,954.37 380.49,954.37 381.16,954.76 381.49,955.95 381.49,959.90"/>
<path class="tx" d="M394.64,954.37L394.64,959.90M394.64,955.55L393.97,954.76 393.31,954.37 392.32,954.37 391.66,954.76 391.00,955.55 390.66,956.74 390.66,957.53 391.00,958.71 391.66,959.50 392.32,959.90 393.31,959.90 393.97,959.50 394.64,958.71"/>
<path class="tx" d="M406.49,955.55L405.83,954.76 405.17,954.37 404.18,954.37 403.51,954.76 402.85,955.55 402.52,956.74 402.52,957.53 402.85,958.71 403.51,959.50 404.18,959.90 405.17,959.90 405.83,959.50 406.49,958.71M408.48,956.74L412.45,956.74 412.45,955.95 412.12,955.16 411.79,954.76 411.13,954.37 410.13,954.37 409.47,954.76 408.81,955.55 408.48,956.74 408.48,957.53 408.81,958.71 409.47,959.50 410.13,959.90 411.13,959.90 411.79,959.50 412.45,958.71M414.77,954.37L414.77,959.90M414.77,956.74L415.10,955.55 415.76,954.76 416.42,954.37 417.42,954.37M422.71,954.37L422.71,959.90M422.71,955.55L422.05,954.76 421.39,954.37 420.40,954.37 419.73,954.76 419.07,955.55 418.74,956.74 418.74,957.53 419.07,958.71 419.73,959.50 420.40,959.90 421.39,959.90 422.05,959.50 422.71,958.71M425.36,954.37L425.36,959.90M425.36,955.95L426.35,954.76 427.02,954.37 428.01,954.37 428.67,954.76 429.00,955.95 429.00,959.90M429.00,955.95L429.99,954.76 430.66,954.37 431.65,954.37 432.31,954.76 432.64,955.95 432.64,959.90M434.96,951.60L435.29,952.00 435.62,951.60 435.29,951.20 434.96,951.60M435.29,954.37L435.29,959.90M441.58,955.55L440.92,954.76 440.25,954.37 439.26,954.37 438.60,954.76 437.94,955.55 437.61,956.74 437.61,957.53 437.94,958.71 438.60,959.50 439.26,959.90 440.25,959.90 440.92,959.50 441.58,958.71"/>
<path class="tx" d="M449.63,951.60L449.63,959.90M451.95,951.60L452.28,952.00 452.61,951.60 452.28,951.20 451.95,951.60M452.28,954.37L452.28,959.90M458.57,951.60L458.57,959.90M458.57,955.55L457.91,954.76 457.24,954.37 456.25,954.37 455.59,954.76 454.93,955.55 454.60,956.74 454.60,957.53 454.93,958.71 455.59,959.50 456.25,959.90 457.24,959.90 457.91,959.50 458.57,958.71"/>
<path class="tx" d="M467.45,954.37L467.45,958.32 467.78,959.50 468.45,959.90 469.44,959.90 470.10,959.50 471.09,958.32M471.09,954.37L471.09,959.90M477.05,955.55L476.72,954.76 475.73,954.37 474.74,954.37 473.74,954.76 473.41,955.55 473.74,956.34 474.40,956.74 476.06,957.13 476.72,957.53 477.05,958.32 477.05,958.71 476.72,959.50 475.73,959.90 474.74,959.90 473.74,959.50 473.41,958.71M479.04,951.60L479.37,952.00 479.70,951.60 479.37,951.20 479.04,951.60M479.37,954.37L479.37,959.90M482.02,954.37L482.02,959.90M482.02,955.95L483.01,954.76 483.67,954.37 484.67,954.37 485.33,954.76 485.66,955.95 485.66,959.90M491.95,954.37L491.95,960.69 491.62,961.88 491.29,962.27 490.62,962.67 489.63,962.67 488.97,962.27M491.95,955.55L491.29,954.76 490.62,954.37 489.63,954.37 488.97,954.76 488.31,955.55 487.98,956.74 487.98,957.53 488.31,958.71 488.97,959.50 489.63,959.90 490.62,959.90 491.29,959.50 491.95,958.71"/>
<path class="tx" d="M504.38,954.37L504.38,960.69 504.04,961.88 503.71,962.27 503.05,962.67 502.06,962.67 501.40,962.27M504.38,955.55L503.71,954.76 503.05,954.37 502.06,954.37 501.40,954.76 500.73,955.55 500.40,956.74 500.40,957.53 500.73,958.71 501.40,959.50 502.06,959.90 503.05,959.90 503.71,959.50 504.38,958.71M507.02,951.60L507.02,959.90M513.31,954.37L513.31,959.90M513.31,955.55L512.65,954.76 511.99,954.37 511.00,954.37 510.33,954.76 509.67,955.55 509.34,956.74 509.34,957.53 509.67,958.71 510.33,959.50 511.00,959.90 511.99,959.90 512.65,959.50 513.31,958.71M519.27,955.55L518.94,954.76 517.95,954.37 516.95,954.37 515.96,954.76 515.63,955.55 515.96,956.34 516.62,956.74 518.28,957.13 518.94,957.53 519.27,958.32 519.27,958.71 518.94,959.50 517.95,959.90 516.95,959.90 515.96,959.50 515.63,958.71M524.90,955.55L524.57,954.76 523.57,954.37 522.58,954.37 521.59,954.76 521.26,955.55 521.59,956.34 522.25,956.74 523.90,957.13 524.57,957.53 524.90,958.32 524.90,958.71 524.57,959.50 523.57,959.90 522.58,959.90 521.59,959.50 521.26,958.71"/>
<path class="tx" d="M535.74,951.60L535.08,951.60 534.41,952.00 534.08,953.18 534.08,959.90M533.09,954.37L535.41,954.37M537.72,954.37L537.72,959.90M537.72,956.74L538.06,955.55 538.72,954.76 539.38,954.37 540.37,954.37M541.70,951.60L542.03,952.00 542.36,951.60 542.03,951.20 541.70,951.60M542.03,954.37L542.03,959.90M545.01,951.60L545.01,958.32 545.34,959.50 546.00,959.90 546.66,959.90M544.01,954.37L546.33,954.37M548.98,959.11L548.65,959.50 548.98,959.90 549.31,959.50 548.98,959.11"/>
<path class="tx" d="M143.60,968.10L143.60,976.40M143.60,968.10L145.92,968.10 146.91,968.50 147.57,969.29 147.90,970.08 148.23,971.26 148.23,973.24 147.90,974.42 147.57,975.21 146.91,976.00 145.92,976.40 143.60,976.40M150.88,975.61L150.55,976.00 150.88,976.40 151.21,976.00 150.88,975.61"/>
<path class="tx" d="M166.05,968.10L166.05,976.40M168.70,970.87L168.70,976.40M168.70,972.45L169.69,971.26 170.36,970.87 171.35,970.87 172.01,971.26 172.34,972.45 172.34,976.40M178.63,968.10L178.63,976.40M178.63,972.05L177.97,971.26 177.31,970.87 176.31,970.87 175.65,971.26 174.99,972.05 174.66,973.24 174.66,974.03 174.99,975.21 175.65,976.00 176.31,976.40 177.31,976.40 177.97,976.00 178.63,975.21M180.95,973.24L184.92,973.24 184.92,972.45 184.59,971.66 184.26,971.26 183.60,970.87 182.60,970.87 181.94,971.26 181.28,972.05 180.95,973.24 180.95,974.03 181.28,975.21 181.94,976.00 182.60,976.40 183.60,976.40 184.26,976.00 184.92,975.21M186.91,970.87L190.55,976.40M190.55,970.87L186.91,976.40"/>
<path class="tx" d="M199.05,970.87L199.05,979.17M199.05,972.05L199.71,971.26 200.37,970.87 201.37,970.87 202.03,971.26 202.69,972.05 203.02,973.24 203.02,974.03 202.69,975.21 202.03,976.00 201.37,976.40 200.37,976.40 199.71,976.00 199.05,975.21M206.66,970.87L206.00,971.26 205.34,972.05 205.01,973.24 205.01,974.03 205.34,975.21 206.00,976.00 206.66,976.40 207.66,976.40 208.32,976.00 208.98,975.21 209.31,974.03 209.31,973.24 208.98,972.05 208.32,971.26 207.66,970.87 206.66,970.87M211.30,968.10L211.63,968.50 211.96,968.10 211.63,967.70 211.30,968.10M211.63,970.87L211.63,976.40M214.28,970.87L214.28,976.40M214.28,972.45L215.27,971.26 215.93,970.87 216.92,970.87 217.59,971.26 217.92,972.45 217.92,976.40M220.90,968.10L220.90,974.82 221.23,976.00 221.89,976.40 222.55,976.40M219.90,970.87L222.22,970.87"/>
<path class="tx" d="M231.26,968.10L231.59,968.50 231.92,968.10 231.59,967.70 231.26,968.10M231.59,970.87L231.59,976.40M237.54,972.05L237.21,971.26 236.22,970.87 235.23,970.87 234.23,971.26 233.90,972.05 234.23,972.84 234.90,973.24 236.55,973.63 237.21,974.03 237.54,974.82 237.54,975.21 237.21,976.00 236.22,976.40 235.23,976.40 234.23,976.00 233.90,975.21"/>
<path class="tx" d="M245.84,970.87L245.84,979.17M245.84,972.05L246.51,971.26 247.17,970.87 248.16,970.87 248.82,971.26 249.48,972.05 249.82,973.24 249.82,974.03 249.48,975.21 248.82,976.00 248.16,976.40 247.17,976.40 246.51,976.00 245.84,975.21M252.13,970.87L252.13,976.40M252.13,973.24L252.46,972.05 253.13,971.26 253.79,970.87 254.78,970.87M257.76,970.87L257.10,971.26 256.44,972.05 256.10,973.24 256.10,974.03 256.44,975.21 257.10,976.00 257.76,976.40 258.75,976.40 259.41,976.00 260.08,975.21 260.41,974.03 260.41,973.24 260.08,972.05 259.41,971.26 258.75,970.87 257.76,970.87M262.06,970.87L264.05,976.40M266.03,970.87L264.05,976.40M267.69,968.10L268.02,968.50 268.35,968.10 268.02,967.70 267.69,968.10M268.02,970.87L268.02,976.40M274.31,968.10L274.31,976.40M274.31,972.05L273.65,971.26 272.99,970.87 271.99,970.87 271.33,971.26 270.67,972.05 270.34,973.24 270.34,974.03 270.67,975.21 271.33,976.00 271.99,976.40 272.99,976.40 273.65,976.00 274.31,975.21M276.63,973.24L280.60,973.24 280.60,972.45 280.27,971.66 279.94,971.26 279.27,970.87 278.28,970.87 277.62,971.26 276.96,972.05 276.63,973.24 276.63,974.03 276.96,975.21 277.62,976.00 278.28,976.40 279.27,976.40 279.94,976.00 280.60,975.21M286.56,968.10L286.56,976.40M286.56,972.05L285.89,971.26 285.23,970.87 284.24,970.87 283.58,971.26 282.92,972.05 282.58,973.24 282.58,974.03 282.92,975.21 283.58,976.00 284.24,976.40 285.23,976.40 285.89,976.00 286.56,975.21"/>
<path class="tx" d="M296.87,970.87L296.21,971.26 295.55,972.05 295.22,973.24 295.22,974.03 295.55,975.21 296.21,976.00 296.87,976.40 297.87,976.40 298.53,976.00 299.19,975.21 299.52,974.03 299.52,973.24 299.19,972.05 298.53,971.26 297.87,970.87 296.87,970.87M301.84,970.87L301.84,976.40M301.84,972.45L302.83,971.26 303.49,970.87 304.49,970.87 305.15,971.26 305.48,972.45 305.48,976.40"/>
<path class="tx" d="M317.60,972.05L316.94,971.26 316.27,970.87 315.28,970.87 314.62,971.26 313.96,972.05 313.62,973.24 313.62,974.03 313.96,975.21 314.62,976.00 315.28,976.40 316.27,976.40 316.94,976.00 317.60,975.21M323.56,970.87L323.56,976.40M323.56,972.05L322.89,971.26 322.23,970.87 321.24,970.87 320.58,971.26 319.91,972.05 319.58,973.24 319.58,974.03 319.91,975.21 320.58,976.00 321.24,976.40 322.23,976.40 322.89,976.00 323.56,975.21M326.20,970.87L326.20,979.17M326.20,972.05L326.87,971.26 327.53,970.87 328.52,970.87 329.18,971.26 329.84,972.05 330.18,973.24 330.18,974.03 329.84,975.21 329.18,976.00 328.52,976.40 327.53,976.40 326.87,976.00 326.20,975.21"/>
<path class="tx" d="M340.46,968.10L339.80,968.10 339.14,968.50 338.81,969.68 338.81,976.40M337.81,970.87L340.13,970.87M343.77,970.87L343.11,971.26 342.45,972.05 342.12,973.24 342.12,974.03 342.45,975.21 343.11,976.00 343.77,976.40 344.77,976.40 345.43,976.00 346.09,975.21 346.42,974.03 346.42,973.24 346.09,972.05 345.43,971.26 344.77,970.87 343.77,970.87M348.74,970.87L348.74,976.40M348.74,973.24L349.07,972.05 349.73,971.26 350.39,970.87 351.39,970.87"/>
<path class="tx" d="M360.32,968.10L360.32,974.82 360.65,976.00 361.31,976.40 361.97,976.40M359.32,970.87L361.64,970.87M363.63,973.24L367.60,973.24 367.60,972.45 367.27,971.66 366.94,971.26 366.28,970.87 365.28,970.87 364.62,971.26 363.96,972.05 363.63,973.24 363.63,974.03 363.96,975.21 364.62,976.00 365.28,976.40 366.28,976.40 366.94,976.00 367.60,975.21M369.92,970.87L369.92,976.40M369.92,973.24L370.25,972.05 370.91,971.26 371.57,970.87 372.56,970.87M374.22,970.87L374.22,976.40M374.22,972.45L375.21,971.26 375.87,970.87 376.87,970.87 377.53,971.26 377.86,972.45 377.86,976.40M377.86,972.45L378.85,971.26 379.52,970.87 380.51,970.87 381.17,971.26 381.50,972.45 381.50,976.40M383.82,968.10L384.15,968.50 384.48,968.10 384.15,967.70 383.82,968.10M384.15,970.87L384.15,976.40M386.80,970.87L386.80,976.40M386.80,972.45L387.79,971.26 388.45,970.87 389.45,970.87 390.11,971.26 390.44,972.45 390.44,976.40M396.73,970.87L396.73,976.40M396.73,972.05L396.07,971.26 395.40,970.87 394.41,970.87 393.75,971.26 393.09,972.05 392.76,973.24 392.76,974.03 393.09,975.21 393.75,976.00 394.41,976.40 395.40,976.40 396.07,976.00 396.73,975.21M399.38,968.10L399.38,976.40"/>
<path class="tx" d="M408.52,968.10L408.86,968.50 409.19,968.10 408.86,967.70 408.52,968.10M408.86,970.87L408.86,976.40M415.14,968.10L415.14,976.40M415.14,972.05L414.48,971.26 413.82,970.87 412.83,970.87 412.17,971.26 411.50,972.05 411.17,973.24 411.17,974.03 411.50,975.21 412.17,976.00 412.83,976.40 413.82,976.40 414.48,976.00 415.14,975.21M417.46,973.24L421.43,973.24 421.43,972.45 421.10,971.66 420.77,971.26 420.11,970.87 419.12,970.87 418.45,971.26 417.79,972.05 417.46,973.24 417.46,974.03 417.79,975.21 418.45,976.00 419.12,976.40 420.11,976.40 420.77,976.00 421.43,975.21M423.75,970.87L423.75,976.40M423.75,972.45L424.74,971.26 425.41,970.87 426.40,970.87 427.06,971.26 427.39,972.45 427.39,976.40M430.37,968.10L430.37,974.82 430.70,976.00 431.36,976.40 432.02,976.40M429.38,970.87L431.69,970.87M433.68,968.10L434.01,968.50 434.34,968.10 434.01,967.70 433.68,968.10M434.01,970.87L434.01,976.40M438.64,968.10L437.98,968.10 437.32,968.50 436.99,969.68 436.99,976.40M436.00,970.87L438.31,970.87M440.30,968.10L440.63,968.50 440.96,968.10 440.63,967.70 440.30,968.10M440.63,970.87L440.63,976.40M446.92,972.05L446.26,971.26 445.60,970.87 444.60,970.87 443.94,971.26 443.28,972.05 442.95,973.24 442.95,974.03 443.28,975.21 443.94,976.00 444.60,976.40 445.60,976.40 446.26,976.00 446.92,975.21M452.88,970.87L452.88,976.40M452.88,972.05L452.22,971.26 451.55,970.87 450.56,970.87 449.90,971.26 449.24,972.05 448.91,973.24 448.91,974.03 449.24,975.21 449.90,976.00 450.56,976.40 451.55,976.40 452.22,976.00 452.88,975.21M455.86,968.10L455.86,974.82 456.19,976.00 456.85,976.40 457.51,976.40M454.86,970.87L457.18,970.87M459.17,968.10L459.50,968.50 459.83,968.10 459.50,967.70 459.17,968.10M459.50,970.87L459.50,976.40M463.47,970.87L462.81,971.26 462.15,972.05 461.81,973.24 461.81,974.03 462.15,975.21 462.81,976.00 463.47,976.40 464.46,976.40 465.12,976.00 465.79,975.21 466.12,974.03 466.12,973.24 465.79,972.05 465.12,971.26 464.46,970.87 463.47,970.87M468.44,970.87L468.44,976.40M468.44,972.45L469.43,971.26 470.09,970.87 471.08,970.87 471.75,971.26 472.08,972.45 472.08,976.40"/>
<path class="tx" d="M482.57,970.87L481.91,971.26 481.25,972.05 480.92,973.24 480.92,974.03 481.25,975.21 481.91,976.00 482.57,976.40 483.56,976.40 484.23,976.00 484.89,975.21 485.22,974.03 485.22,973.24 484.89,972.05 484.23,971.26 483.56,970.87 482.57,970.87M487.54,970.87L487.54,976.40M487.54,972.45L488.53,971.26 489.19,970.87 490.18,970.87 490.85,971.26 491.18,972.45 491.18,976.40M493.83,968.10L493.83,976.40M495.81,970.87L497.80,976.40M499.78,970.87L497.80,976.40 497.14,977.98 496.47,978.77 495.81,979.17 495.48,979.17"/>
<path class="tx" d="M509.07,970.87L508.41,971.26 507.75,972.05 507.42,973.24 507.42,974.03 507.75,975.21 508.41,976.00 509.07,976.40 510.07,976.40 510.73,976.00 511.39,975.21 511.72,974.03 511.72,973.24 511.39,972.05 510.73,971.26 510.07,970.87 509.07,970.87M514.04,970.87L514.04,976.40M514.04,972.45L515.03,971.26 515.69,970.87 516.69,970.87 517.35,971.26 517.68,972.45 517.68,976.40"/>
<path class="tx" d="M526.26,970.87L526.26,979.17M526.26,972.05L526.92,971.26 527.58,970.87 528.57,970.87 529.24,971.26 529.90,972.05 530.23,973.24 530.23,974.03 529.90,975.21 529.24,976.00 528.57,976.40 527.58,976.40 526.92,976.00 526.26,975.21M532.55,970.87L532.55,976.40M532.55,973.24L532.88,972.05 533.54,971.26 534.20,970.87 535.19,970.87M536.52,973.24L540.49,973.24 540.49,972.45 540.16,971.66 539.83,971.26 539.17,970.87 538.17,970.87 537.51,971.26 536.85,972.05 536.52,973.24 536.52,974.03 536.85,975.21 537.51,976.00 538.17,976.40 539.17,976.40 539.83,976.00 540.49,975.21M546.12,972.05L545.79,971.26 544.79,970.87 543.80,970.87 542.81,971.26 542.48,972.05 542.81,972.84 543.47,973.24 545.12,973.63 545.79,974.03 546.12,974.82 546.12,975.21 545.79,976.00 544.79,976.40 543.80,976.40 542.81,976.00 542.48,975.21M551.74,972.05L551.41,971.26 550.42,970.87 549.43,970.87 548.43,971.26 548.10,972.05 548.43,972.84 549.10,973.24 550.75,973.63 551.41,974.03 551.74,974.82 551.74,975.21 551.41,976.00 550.42,976.40 549.43,976.40 548.43,976.00 548.10,975.21"/>
<path class="tx" d="M563.94,972.05L563.28,971.26 562.62,970.87 561.63,970.87 560.96,971.26 560.30,972.05 559.97,973.24 559.97,974.03 560.30,975.21 560.96,976.00 561.63,976.40 562.62,976.40 563.28,976.00 563.94,975.21M565.93,973.24L569.90,973.24 569.90,972.45 569.57,971.66 569.24,971.26 568.58,970.87 567.58,970.87 566.92,971.26 566.26,972.05 565.93,973.24 565.93,974.03 566.26,975.21 566.92,976.00 567.58,976.40 568.58,976.40 569.24,976.00 569.90,975.21M572.22,970.87L572.22,976.40M572.22,973.24L572.55,972.05 573.21,971.26 573.87,970.87 574.87,970.87M580.16,970.87L580.16,976.40M580.16,972.05L579.50,971.26 578.84,970.87 577.84,970.87 577.18,971.26 576.52,972.05 576.19,973.24 576.19,974.03 576.52,975.21 577.18,976.00 577.84,976.40 578.84,976.40 579.50,976.00 580.16,975.21M582.81,970.87L582.81,976.40M582.81,972.45L583.80,971.26 584.46,970.87 585.46,970.87 586.12,971.26 586.45,972.45 586.45,976.40M586.45,972.45L587.44,971.26 588.11,970.87 589.10,970.87 589.76,971.26 590.09,972.45 590.09,976.40M592.41,968.10L592.74,968.50 593.07,968.10 592.74,967.70 592.41,968.10M592.74,970.87L592.74,976.40M599.03,972.05L598.37,971.26 597.70,970.87 596.71,970.87 596.05,971.26 595.39,972.05 595.06,973.24 595.06,974.03 595.39,975.21 596.05,976.00 596.71,976.40 597.70,976.40 598.37,976.00 599.03,975.21"/>
<path class="tx" d="M610.77,970.87L610.77,977.19 610.44,978.38 610.11,978.77 609.45,979.17 608.46,979.17 607.80,978.77M610.77,972.05L610.11,971.26 609.45,970.87 608.46,970.87 607.80,971.26 607.13,972.05 606.80,973.24 606.80,974.03 607.13,975.21 607.80,976.00 608.46,976.40 609.45,976.40 610.11,976.00 610.77,975.21M613.42,968.10L613.42,976.40M619.71,970.87L619.71,976.40M619.71,972.05L619.05,971.26 618.39,970.87 617.39,970.87 616.73,971.26 616.07,972.05 615.74,973.24 615.74,974.03 616.07,975.21 616.73,976.00 617.39,976.40 618.39,976.40 619.05,976.00 619.71,975.21M625.67,972.05L625.34,971.26 624.35,970.87 623.35,970.87 622.36,971.26 622.03,972.05 622.36,972.84 623.02,973.24 624.68,973.63 625.34,974.03 625.67,974.82 625.67,975.21 625.34,976.00 624.35,976.40 623.35,976.40 622.36,976.00 622.03,975.21M631.30,972.05L630.97,971.26 629.97,970.87 628.98,970.87 627.99,971.26 627.66,972.05 627.99,972.84 628.65,973.24 630.30,973.63 630.97,974.03 631.30,974.82 631.30,975.21 630.97,976.00 629.97,976.40 628.98,976.40 627.99,976.00 627.66,975.21"/>
<path class="tx" d="M642.31,968.10L641.65,968.10 640.99,968.50 640.66,969.68 640.66,976.40M639.66,970.87L641.98,970.87M644.30,970.87L644.30,976.40M644.30,973.24L644.63,972.05 645.29,971.26 645.95,970.87 646.95,970.87M648.27,968.10L648.60,968.50 648.93,968.10 648.60,967.70 648.27,968.10M648.60,970.87L648.60,976.40M651.58,968.10L651.58,974.82 651.91,976.00 652.57,976.40 653.24,976.40M650.59,970.87L652.90,970.87"/>
<path class="tx" d="M664.94,972.05L664.61,971.26 663.61,970.87 662.62,970.87 661.63,971.26 661.30,972.05 661.63,972.84 662.29,973.24 663.95,973.63 664.61,974.03 664.94,974.82 664.94,975.21 664.61,976.00 663.61,976.40 662.62,976.40 661.63,976.00 661.30,975.21M666.92,973.24L670.90,973.24 670.90,972.45 670.57,971.66 670.23,971.26 669.57,970.87 668.58,970.87 667.92,971.26 667.26,972.05 666.92,973.24 666.92,974.03 667.26,975.21 667.92,976.00 668.58,976.40 669.57,976.40 670.23,976.00 670.90,975.21M676.85,970.87L676.85,976.40M676.85,972.05L676.19,971.26 675.53,970.87 674.54,970.87 673.88,971.26 673.21,972.05 672.88,973.24 672.88,974.03 673.21,975.21 673.88,976.00 674.54,976.40 675.53,976.40 676.19,976.00 676.85,975.21M679.50,968.10L679.50,976.40"/>
<path class="tx" d="M689.50,970.87L688.84,971.26 688.17,972.05 687.84,973.24 687.84,974.03 688.17,975.21 688.84,976.00 689.50,976.40 690.49,976.40 691.15,976.00 691.81,975.21 692.15,974.03 692.15,973.24 691.81,972.05 691.15,971.26 690.49,970.87 689.50,970.87M694.46,970.87L694.46,976.40M694.46,972.45L695.46,971.26 696.12,970.87 697.11,970.87 697.77,971.26 698.10,972.45 698.10,976.40M700.75,968.10L700.75,976.40M702.74,970.87L704.72,976.40M706.71,970.87L704.72,976.40 704.06,977.98 703.40,978.77 702.74,979.17 702.41,979.17M709.03,975.61L708.70,976.00 709.03,976.40 709.36,976.00 709.03,975.61"/>
<path class="tx" d="M143.60,985.60L143.60,993.90M143.60,985.60L147.90,985.60M143.60,989.55L146.25,989.55M143.60,993.90L147.90,993.90M150.22,993.11L149.89,993.50 150.22,993.90 150.55,993.50 150.22,993.11"/>
<path class="tx" d="M165.91,985.60L165.91,993.90M165.91,985.60L170.09,985.60M165.91,989.55L168.48,989.55M175.25,988.37L175.25,993.90M175.25,989.55L174.60,988.76 173.96,988.37 172.99,988.37 172.35,988.76 171.70,989.55 171.38,990.74 171.38,991.53 171.70,992.71 172.35,993.50 172.99,993.90 173.96,993.90 174.60,993.50 175.25,992.71M177.82,985.60L177.82,993.90M180.40,985.60L180.40,993.90M186.19,989.55L185.87,988.76 184.91,988.37 183.94,988.37 182.97,988.76 182.65,989.55 182.97,990.34 183.62,990.74 185.23,991.13 185.87,991.53 186.19,992.32 186.19,992.71 185.87,993.50 184.91,993.90 183.94,993.90 182.97,993.50 182.65,992.71"/>
<path class="tx" d="M195.11,988.37L196.40,993.90M197.68,988.37L196.40,993.90M197.68,988.37L198.97,993.90M200.26,988.37L198.97,993.90M202.19,985.60L202.51,986.00 202.84,985.60 202.51,985.20 202.19,985.60M202.51,988.37L202.51,993.90M205.41,985.60L205.41,992.32 205.73,993.50 206.38,993.90 207.02,993.90M204.45,988.37L206.70,988.37M208.95,985.60L208.95,993.90M208.95,989.95L209.92,988.76 210.56,988.37 211.53,988.37 212.17,988.76 212.50,989.95 212.50,993.90M214.75,985.60L215.07,986.00 215.39,985.60 215.07,985.20 214.75,985.60M215.07,988.37L215.07,993.90M217.65,988.37L217.65,993.90M217.65,989.95L218.61,988.76 219.26,988.37 220.22,988.37 220.87,988.76 221.19,989.95 221.19,993.90"/>
<path class="tx" d="M229.92,985.60L229.92,993.90M229.92,985.60L232.49,993.90M235.07,985.60L232.49,993.90M235.07,985.60L235.07,993.90M237.64,985.60L237.64,993.90M240.22,985.60L240.22,993.90M240.22,993.90L244.08,993.90"/>
<path class="tx" d="M257.80,986.79L257.15,986.00 256.19,985.60 254.90,985.60 253.93,986.00 253.29,986.79 253.29,987.58 253.61,988.37 253.93,988.76 254.58,989.16 256.51,989.95 257.15,990.34 257.47,990.74 257.80,991.53 257.80,992.71 257.15,993.50 256.19,993.90 254.90,993.90 253.93,993.50 253.29,992.71M261.34,985.60L261.34,993.90M259.08,985.60L263.59,985.60M265.20,985.60L265.20,993.90M265.20,985.60L267.46,985.60 268.42,986.00 269.07,986.79 269.39,987.58 269.71,988.76 269.71,990.74 269.39,991.92 269.07,992.71 268.42,993.50 267.46,993.90 265.20,993.90"/>
<path class="tx" d="M278.62,987.18L279.26,986.79 280.23,985.60 280.23,993.90M285.70,985.60L284.74,986.00 284.42,986.79 284.42,987.58 284.74,988.37 285.38,988.76 286.67,989.16 287.63,989.55 288.28,990.34 288.60,991.13 288.60,992.32 288.28,993.11 287.96,993.50 286.99,993.90 285.70,993.90 284.74,993.50 284.42,993.11 284.09,992.32 284.09,991.13 284.42,990.34 285.06,989.55 286.03,989.16 287.31,988.76 287.96,988.37 288.28,987.58 288.28,986.79 287.96,986.00 286.99,985.60 285.70,985.60M291.18,985.60L294.72,985.60 292.79,988.76 293.75,988.76 294.40,989.16 294.72,989.55 295.04,990.74 295.04,991.53 294.72,992.71 294.07,993.50 293.11,993.90 292.14,993.90 291.18,993.50 290.86,993.11 290.53,992.32M300.84,985.60L297.62,985.60 297.30,989.16 297.62,988.76 298.58,988.37 299.55,988.37 300.51,988.76 301.16,989.55 301.48,990.74 301.48,991.53 301.16,992.71 300.51,993.50 299.55,993.90 298.58,993.90 297.62,993.50 297.30,993.11 296.97,992.32"/>
<path class="tx" d="M314.14,987.58L313.82,986.79 313.18,986.00 312.53,985.60 311.25,985.60 310.60,986.00 309.96,986.79 309.64,987.58 309.31,988.76 309.31,990.74 309.64,991.92 309.96,992.71 310.60,993.50 311.25,993.90 312.53,993.90 313.18,993.50 313.82,992.71 314.14,991.92 314.14,990.74M312.53,990.74L314.14,990.74M316.40,985.60L316.40,993.90M316.40,985.60L318.65,985.60 319.62,986.00 320.26,986.79 320.58,987.58 320.91,988.76 320.91,990.74 320.58,991.92 320.26,992.71 319.62,993.50 318.65,993.90 316.40,993.90M323.16,985.60L323.16,993.90M325.74,985.60L325.74,993.90M325.74,985.60L328.63,985.60 329.60,986.00 329.92,986.39 330.24,987.18 330.24,988.37 329.92,989.16 329.60,989.55 328.63,989.95 325.74,989.95M333.14,987.18L333.79,986.79 334.75,985.60 334.75,993.90M338.94,990.34L344.73,990.34M348.60,985.60L348.60,993.90M346.34,985.60L350.85,985.60M353.11,987.18L353.75,986.79 354.72,985.60 354.72,993.90M361.80,985.60L358.58,991.13 363.41,991.13M361.80,985.60L361.80,993.90M365.99,993.50L365.66,993.90 365.34,993.50 365.66,993.11 365.99,993.50 365.99,994.30 365.66,995.09 365.34,995.48"/>
<path class="tx" d="M378.59,987.58L378.27,986.79 377.63,986.00 376.98,985.60 375.70,985.60 375.05,986.00 374.41,986.79 374.09,987.58 373.76,988.76 373.76,990.74 374.09,991.92 374.41,992.71 375.05,993.50 375.70,993.90 376.98,993.90 377.63,993.50 378.27,992.71 378.59,991.92 378.59,990.74M376.98,990.74L378.59,990.74M380.85,985.60L380.85,993.90M380.85,985.60L383.10,985.60 384.07,986.00 384.71,986.79 385.03,987.58 385.36,988.76 385.36,990.74 385.03,991.92 384.71,992.71 384.07,993.50 383.10,993.90 380.85,993.90M387.61,985.60L387.61,993.90M390.19,985.60L390.19,993.90M390.19,985.60L393.08,985.60 394.05,986.00 394.37,986.39 394.69,987.18 394.69,988.37 394.37,989.16 394.05,989.55 393.08,989.95 390.19,989.95M397.59,987.18L398.24,986.79 399.20,985.60 399.20,993.90M403.39,990.34L409.18,990.34M413.05,985.60L413.05,993.90M410.79,985.60L415.30,985.60M417.56,987.18L418.20,986.79 419.17,985.60 419.17,993.90M427.22,986.79L426.89,986.00 425.93,985.60 425.28,985.60 424.32,986.00 423.67,987.18 423.35,989.16 423.35,991.13 423.67,992.71 424.32,993.50 425.28,993.90 425.61,993.90 426.57,993.50 427.22,992.71 427.54,991.53 427.54,991.13 427.22,989.95 426.57,989.16 425.61,988.76 425.28,988.76 424.32,989.16 423.67,989.95 423.35,991.13M430.44,993.50L430.11,993.90 429.79,993.50 430.11,993.11 430.44,993.50 430.44,994.30 430.11,995.09 429.79,995.48"/>
<path class="tx" d="M443.14,987.58L442.82,986.79 442.18,986.00 441.53,985.60 440.25,985.60 439.60,986.00 438.96,986.79 438.63,987.58 438.31,988.76 438.31,990.74 438.63,991.92 438.96,992.71 439.60,993.50 440.25,993.90 441.53,993.90 442.18,993.50 442.82,992.71 443.14,991.92 443.14,990.74M441.53,990.74L443.14,990.74M445.40,985.60L445.40,993.90M445.40,985.60L447.65,985.60 448.62,986.00 449.26,986.79 449.58,987.58 449.90,988.76 449.90,990.74 449.58,991.92 449.26,992.71 448.62,993.50 447.65,993.90 445.40,993.90M452.16,985.60L452.16,993.90M454.73,985.60L454.73,993.90M454.73,985.60L457.63,985.60 458.60,986.00 458.92,986.39 459.24,987.18 459.24,988.37 458.92,989.16 458.60,989.55 457.63,989.95 454.73,989.95M462.14,987.18L462.78,986.79 463.75,985.60 463.75,993.90M467.94,990.34L473.73,990.34M477.60,985.60L477.60,993.90M475.34,985.60L479.85,985.60M482.10,987.18L482.75,986.79 483.71,985.60 483.71,993.90M489.19,985.60L488.22,986.00 487.90,986.79 487.90,987.58 488.22,988.37 488.87,988.76 490.15,989.16 491.12,989.55 491.76,990.34 492.09,991.13 492.09,992.32 491.76,993.11 491.44,993.50 490.48,993.90 489.19,993.90 488.22,993.50 487.90,993.11 487.58,992.32 487.58,991.13 487.90,990.34 488.54,989.55 489.51,989.16 490.80,988.76 491.44,988.37 491.76,987.58 491.76,986.79 491.44,986.00 490.48,985.60 489.19,985.60"/>
<path class="tx" d="M503.81,988.37L503.81,993.90M503.81,989.55L503.17,988.76 502.53,988.37 501.56,988.37 500.92,988.76 500.27,989.55 499.95,990.74 499.95,991.53 500.27,992.71 500.92,993.50 501.56,993.90 502.53,993.90 503.17,993.50 503.81,992.71M506.39,988.37L506.39,993.90M506.39,989.95L507.36,988.76 508.00,988.37 508.97,988.37 509.61,988.76 509.93,989.95 509.93,993.90M516.05,985.60L516.05,993.90M516.05,989.55L515.41,988.76 514.76,988.37 513.80,988.37 513.15,988.76 512.51,989.55 512.19,990.74 512.19,991.53 512.51,992.71 513.15,993.50 513.80,993.90 514.76,993.90 515.41,993.50 516.05,992.71"/>
<path class="tx" d="M529.34,987.58L529.02,986.79 528.38,986.00 527.73,985.60 526.45,985.60 525.80,986.00 525.16,986.79 524.84,987.58 524.51,988.76 524.51,990.74 524.84,991.92 525.16,992.71 525.80,993.50 526.45,993.90 527.73,993.90 528.38,993.50 529.02,992.71 529.34,991.92 529.34,990.74M527.73,990.74L529.34,990.74M531.60,985.60L531.60,993.90M531.60,985.60L533.85,985.60 534.82,986.00 535.46,986.79 535.78,987.58 536.11,988.76 536.11,990.74 535.78,991.92 535.46,992.71 534.82,993.50 533.85,993.90 531.60,993.90M538.36,985.60L538.36,993.90M540.94,985.60L540.94,993.90M540.94,985.60L543.83,985.60 544.80,986.00 545.12,986.39 545.44,987.18 545.44,988.37 545.12,989.16 544.80,989.55 543.83,989.95 540.94,989.95M548.34,987.18L548.99,986.79 549.95,985.60 549.95,993.90M554.14,990.34L559.93,990.34M563.80,985.60L563.80,993.90M561.54,985.60L566.05,985.60M567.66,987.58L567.66,987.18 567.98,986.39 568.31,986.00 568.95,985.60 570.24,985.60 570.88,986.00 571.20,986.39 571.53,987.18 571.53,987.97 571.20,988.76 570.56,989.95 567.34,993.90 571.85,993.90M575.71,985.60L574.75,986.00 574.10,987.18 573.78,989.16 573.78,990.34 574.10,992.32 574.75,993.50 575.71,993.90 576.36,993.90 577.32,993.50 577.97,992.32 578.29,990.34 578.29,989.16 577.97,987.18 577.32,986.00 576.36,985.60 575.71,985.60M580.86,993.11L580.54,993.50 580.86,993.90 581.19,993.50 580.86,993.11"/>
</svg>
</body></html>
